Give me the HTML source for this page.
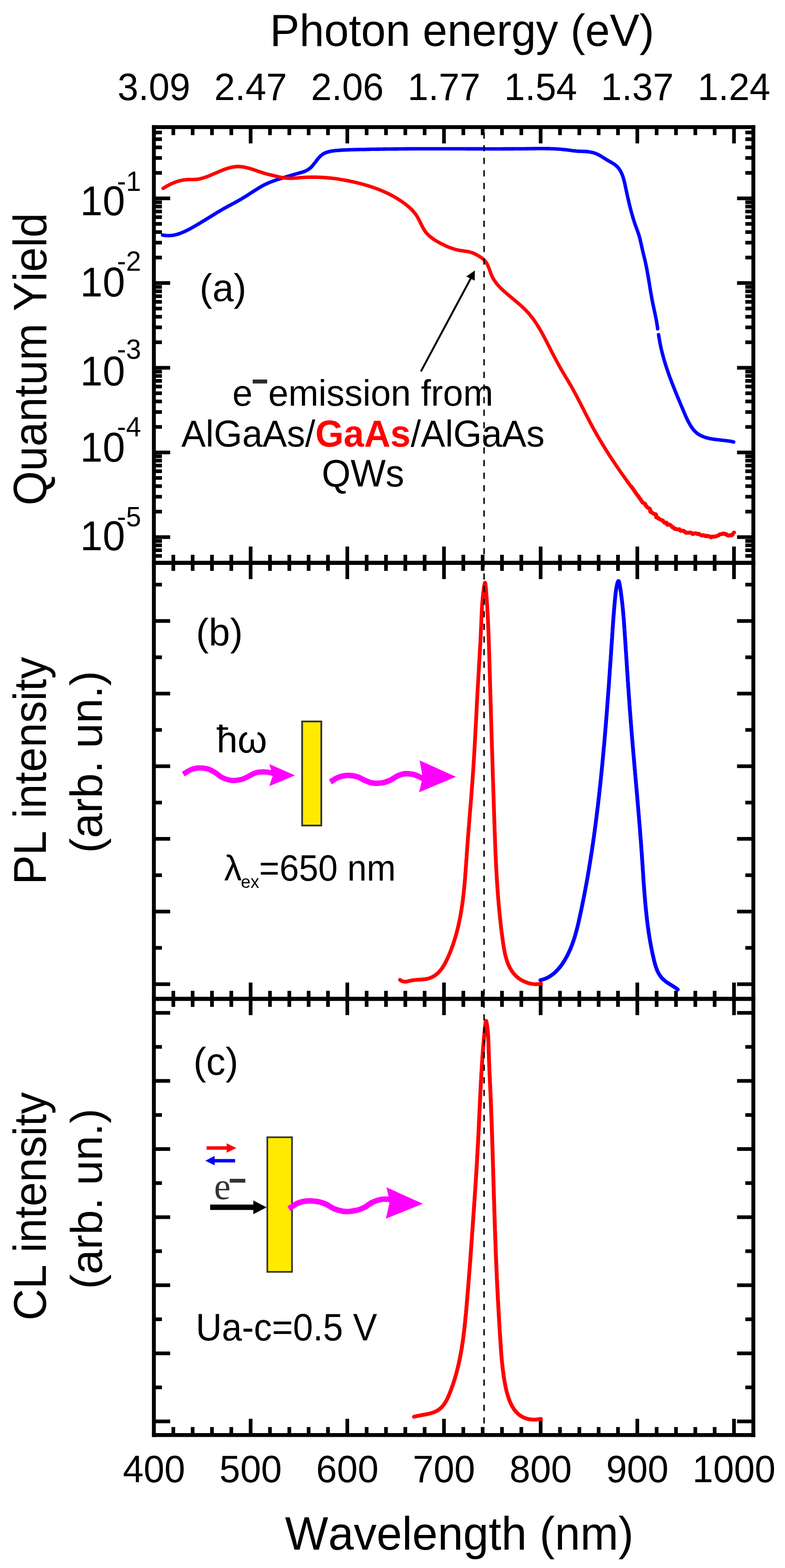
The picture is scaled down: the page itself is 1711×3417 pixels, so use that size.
<!DOCTYPE html>
<html><head><meta charset="utf-8"><title>Quantum yield, PL and CL spectra</title>
<style>html,body{margin:0;padding:0;background:#fff;}svg{display:block;}text{font-kerning:none;}</style>
</head><body>
<svg xmlns="http://www.w3.org/2000/svg" width="1711" height="3417" viewBox="0 0 1711 3417">
<rect width="1711" height="3417" fill="#fff"/>
<line x1="377.74" y1="277" x2="377.74" y2="294.5" stroke="#000" stroke-width="8"/>
<line x1="419.88" y1="277" x2="419.88" y2="294.5" stroke="#000" stroke-width="8"/>
<line x1="462.02" y1="277" x2="462.02" y2="294.5" stroke="#000" stroke-width="8"/>
<line x1="504.16" y1="277" x2="504.16" y2="294.5" stroke="#000" stroke-width="8"/>
<line x1="546.3" y1="277" x2="546.3" y2="312.5" stroke="#000" stroke-width="8"/>
<line x1="588.44" y1="277" x2="588.44" y2="294.5" stroke="#000" stroke-width="8"/>
<line x1="630.58" y1="277" x2="630.58" y2="294.5" stroke="#000" stroke-width="8"/>
<line x1="672.72" y1="277" x2="672.72" y2="294.5" stroke="#000" stroke-width="8"/>
<line x1="714.86" y1="277" x2="714.86" y2="294.5" stroke="#000" stroke-width="8"/>
<line x1="757" y1="277" x2="757" y2="312.5" stroke="#000" stroke-width="8"/>
<line x1="799.14" y1="277" x2="799.14" y2="294.5" stroke="#000" stroke-width="8"/>
<line x1="841.28" y1="277" x2="841.28" y2="294.5" stroke="#000" stroke-width="8"/>
<line x1="883.42" y1="277" x2="883.42" y2="294.5" stroke="#000" stroke-width="8"/>
<line x1="925.56" y1="277" x2="925.56" y2="294.5" stroke="#000" stroke-width="8"/>
<line x1="967.7" y1="277" x2="967.7" y2="312.5" stroke="#000" stroke-width="8"/>
<line x1="1009.84" y1="277" x2="1009.84" y2="294.5" stroke="#000" stroke-width="8"/>
<line x1="1051.98" y1="277" x2="1051.98" y2="294.5" stroke="#000" stroke-width="8"/>
<line x1="1094.12" y1="277" x2="1094.12" y2="294.5" stroke="#000" stroke-width="8"/>
<line x1="1136.26" y1="277" x2="1136.26" y2="294.5" stroke="#000" stroke-width="8"/>
<line x1="1178.4" y1="277" x2="1178.4" y2="312.5" stroke="#000" stroke-width="8"/>
<line x1="1220.54" y1="277" x2="1220.54" y2="294.5" stroke="#000" stroke-width="8"/>
<line x1="1262.68" y1="277" x2="1262.68" y2="294.5" stroke="#000" stroke-width="8"/>
<line x1="1304.82" y1="277" x2="1304.82" y2="294.5" stroke="#000" stroke-width="8"/>
<line x1="1346.96" y1="277" x2="1346.96" y2="294.5" stroke="#000" stroke-width="8"/>
<line x1="1389.1" y1="277" x2="1389.1" y2="312.5" stroke="#000" stroke-width="8"/>
<line x1="1431.24" y1="277" x2="1431.24" y2="294.5" stroke="#000" stroke-width="8"/>
<line x1="1473.38" y1="277" x2="1473.38" y2="294.5" stroke="#000" stroke-width="8"/>
<line x1="1515.52" y1="277" x2="1515.52" y2="294.5" stroke="#000" stroke-width="8"/>
<line x1="1557.66" y1="277" x2="1557.66" y2="294.5" stroke="#000" stroke-width="8"/>
<line x1="1599.8" y1="277" x2="1599.8" y2="312.5" stroke="#000" stroke-width="8"/>
<line x1="377.74" y1="1209" x2="377.74" y2="1244" stroke="#000" stroke-width="8"/>
<line x1="419.88" y1="1209" x2="419.88" y2="1244" stroke="#000" stroke-width="8"/>
<line x1="462.02" y1="1209" x2="462.02" y2="1244" stroke="#000" stroke-width="8"/>
<line x1="504.16" y1="1209" x2="504.16" y2="1244" stroke="#000" stroke-width="8"/>
<line x1="546.3" y1="1191" x2="546.3" y2="1262" stroke="#000" stroke-width="8"/>
<line x1="588.44" y1="1209" x2="588.44" y2="1244" stroke="#000" stroke-width="8"/>
<line x1="630.58" y1="1209" x2="630.58" y2="1244" stroke="#000" stroke-width="8"/>
<line x1="672.72" y1="1209" x2="672.72" y2="1244" stroke="#000" stroke-width="8"/>
<line x1="714.86" y1="1209" x2="714.86" y2="1244" stroke="#000" stroke-width="8"/>
<line x1="757" y1="1191" x2="757" y2="1262" stroke="#000" stroke-width="8"/>
<line x1="799.14" y1="1209" x2="799.14" y2="1244" stroke="#000" stroke-width="8"/>
<line x1="841.28" y1="1209" x2="841.28" y2="1244" stroke="#000" stroke-width="8"/>
<line x1="883.42" y1="1209" x2="883.42" y2="1244" stroke="#000" stroke-width="8"/>
<line x1="925.56" y1="1209" x2="925.56" y2="1244" stroke="#000" stroke-width="8"/>
<line x1="967.7" y1="1191" x2="967.7" y2="1262" stroke="#000" stroke-width="8"/>
<line x1="1009.84" y1="1209" x2="1009.84" y2="1244" stroke="#000" stroke-width="8"/>
<line x1="1051.98" y1="1209" x2="1051.98" y2="1244" stroke="#000" stroke-width="8"/>
<line x1="1094.12" y1="1209" x2="1094.12" y2="1244" stroke="#000" stroke-width="8"/>
<line x1="1136.26" y1="1209" x2="1136.26" y2="1244" stroke="#000" stroke-width="8"/>
<line x1="1178.4" y1="1191" x2="1178.4" y2="1262" stroke="#000" stroke-width="8"/>
<line x1="1220.54" y1="1209" x2="1220.54" y2="1244" stroke="#000" stroke-width="8"/>
<line x1="1262.68" y1="1209" x2="1262.68" y2="1244" stroke="#000" stroke-width="8"/>
<line x1="1304.82" y1="1209" x2="1304.82" y2="1244" stroke="#000" stroke-width="8"/>
<line x1="1346.96" y1="1209" x2="1346.96" y2="1244" stroke="#000" stroke-width="8"/>
<line x1="1389.1" y1="1191" x2="1389.1" y2="1262" stroke="#000" stroke-width="8"/>
<line x1="1431.24" y1="1209" x2="1431.24" y2="1244" stroke="#000" stroke-width="8"/>
<line x1="1473.38" y1="1209" x2="1473.38" y2="1244" stroke="#000" stroke-width="8"/>
<line x1="1515.52" y1="1209" x2="1515.52" y2="1244" stroke="#000" stroke-width="8"/>
<line x1="1557.66" y1="1209" x2="1557.66" y2="1244" stroke="#000" stroke-width="8"/>
<line x1="1599.8" y1="1191" x2="1599.8" y2="1262" stroke="#000" stroke-width="8"/>
<line x1="377.74" y1="2159.2" x2="377.74" y2="2194.2" stroke="#000" stroke-width="8"/>
<line x1="419.88" y1="2159.2" x2="419.88" y2="2194.2" stroke="#000" stroke-width="8"/>
<line x1="462.02" y1="2159.2" x2="462.02" y2="2194.2" stroke="#000" stroke-width="8"/>
<line x1="504.16" y1="2159.2" x2="504.16" y2="2194.2" stroke="#000" stroke-width="8"/>
<line x1="546.3" y1="2141.2" x2="546.3" y2="2212.2" stroke="#000" stroke-width="8"/>
<line x1="588.44" y1="2159.2" x2="588.44" y2="2194.2" stroke="#000" stroke-width="8"/>
<line x1="630.58" y1="2159.2" x2="630.58" y2="2194.2" stroke="#000" stroke-width="8"/>
<line x1="672.72" y1="2159.2" x2="672.72" y2="2194.2" stroke="#000" stroke-width="8"/>
<line x1="714.86" y1="2159.2" x2="714.86" y2="2194.2" stroke="#000" stroke-width="8"/>
<line x1="757" y1="2141.2" x2="757" y2="2212.2" stroke="#000" stroke-width="8"/>
<line x1="799.14" y1="2159.2" x2="799.14" y2="2194.2" stroke="#000" stroke-width="8"/>
<line x1="841.28" y1="2159.2" x2="841.28" y2="2194.2" stroke="#000" stroke-width="8"/>
<line x1="883.42" y1="2159.2" x2="883.42" y2="2194.2" stroke="#000" stroke-width="8"/>
<line x1="925.56" y1="2159.2" x2="925.56" y2="2194.2" stroke="#000" stroke-width="8"/>
<line x1="967.7" y1="2141.2" x2="967.7" y2="2212.2" stroke="#000" stroke-width="8"/>
<line x1="1009.84" y1="2159.2" x2="1009.84" y2="2194.2" stroke="#000" stroke-width="8"/>
<line x1="1051.98" y1="2159.2" x2="1051.98" y2="2194.2" stroke="#000" stroke-width="8"/>
<line x1="1094.12" y1="2159.2" x2="1094.12" y2="2194.2" stroke="#000" stroke-width="8"/>
<line x1="1136.26" y1="2159.2" x2="1136.26" y2="2194.2" stroke="#000" stroke-width="8"/>
<line x1="1178.4" y1="2141.2" x2="1178.4" y2="2212.2" stroke="#000" stroke-width="8"/>
<line x1="1220.54" y1="2159.2" x2="1220.54" y2="2194.2" stroke="#000" stroke-width="8"/>
<line x1="1262.68" y1="2159.2" x2="1262.68" y2="2194.2" stroke="#000" stroke-width="8"/>
<line x1="1304.82" y1="2159.2" x2="1304.82" y2="2194.2" stroke="#000" stroke-width="8"/>
<line x1="1346.96" y1="2159.2" x2="1346.96" y2="2194.2" stroke="#000" stroke-width="8"/>
<line x1="1389.1" y1="2141.2" x2="1389.1" y2="2212.2" stroke="#000" stroke-width="8"/>
<line x1="1431.24" y1="2159.2" x2="1431.24" y2="2194.2" stroke="#000" stroke-width="8"/>
<line x1="1473.38" y1="2159.2" x2="1473.38" y2="2194.2" stroke="#000" stroke-width="8"/>
<line x1="1515.52" y1="2159.2" x2="1515.52" y2="2194.2" stroke="#000" stroke-width="8"/>
<line x1="1557.66" y1="2159.2" x2="1557.66" y2="2194.2" stroke="#000" stroke-width="8"/>
<line x1="1599.8" y1="2141.2" x2="1599.8" y2="2212.2" stroke="#000" stroke-width="8"/>
<line x1="377.74" y1="3109.8" x2="377.74" y2="3127.3" stroke="#000" stroke-width="8"/>
<line x1="419.88" y1="3109.8" x2="419.88" y2="3127.3" stroke="#000" stroke-width="8"/>
<line x1="462.02" y1="3109.8" x2="462.02" y2="3127.3" stroke="#000" stroke-width="8"/>
<line x1="504.16" y1="3109.8" x2="504.16" y2="3127.3" stroke="#000" stroke-width="8"/>
<line x1="546.3" y1="3091.8" x2="546.3" y2="3127.3" stroke="#000" stroke-width="8"/>
<line x1="588.44" y1="3109.8" x2="588.44" y2="3127.3" stroke="#000" stroke-width="8"/>
<line x1="630.58" y1="3109.8" x2="630.58" y2="3127.3" stroke="#000" stroke-width="8"/>
<line x1="672.72" y1="3109.8" x2="672.72" y2="3127.3" stroke="#000" stroke-width="8"/>
<line x1="714.86" y1="3109.8" x2="714.86" y2="3127.3" stroke="#000" stroke-width="8"/>
<line x1="757" y1="3091.8" x2="757" y2="3127.3" stroke="#000" stroke-width="8"/>
<line x1="799.14" y1="3109.8" x2="799.14" y2="3127.3" stroke="#000" stroke-width="8"/>
<line x1="841.28" y1="3109.8" x2="841.28" y2="3127.3" stroke="#000" stroke-width="8"/>
<line x1="883.42" y1="3109.8" x2="883.42" y2="3127.3" stroke="#000" stroke-width="8"/>
<line x1="925.56" y1="3109.8" x2="925.56" y2="3127.3" stroke="#000" stroke-width="8"/>
<line x1="967.7" y1="3091.8" x2="967.7" y2="3127.3" stroke="#000" stroke-width="8"/>
<line x1="1009.84" y1="3109.8" x2="1009.84" y2="3127.3" stroke="#000" stroke-width="8"/>
<line x1="1051.98" y1="3109.8" x2="1051.98" y2="3127.3" stroke="#000" stroke-width="8"/>
<line x1="1094.12" y1="3109.8" x2="1094.12" y2="3127.3" stroke="#000" stroke-width="8"/>
<line x1="1136.26" y1="3109.8" x2="1136.26" y2="3127.3" stroke="#000" stroke-width="8"/>
<line x1="1178.4" y1="3091.8" x2="1178.4" y2="3127.3" stroke="#000" stroke-width="8"/>
<line x1="1220.54" y1="3109.8" x2="1220.54" y2="3127.3" stroke="#000" stroke-width="8"/>
<line x1="1262.68" y1="3109.8" x2="1262.68" y2="3127.3" stroke="#000" stroke-width="8"/>
<line x1="1304.82" y1="3109.8" x2="1304.82" y2="3127.3" stroke="#000" stroke-width="8"/>
<line x1="1346.96" y1="3109.8" x2="1346.96" y2="3127.3" stroke="#000" stroke-width="8"/>
<line x1="1389.1" y1="3091.8" x2="1389.1" y2="3127.3" stroke="#000" stroke-width="8"/>
<line x1="1431.24" y1="3109.8" x2="1431.24" y2="3127.3" stroke="#000" stroke-width="8"/>
<line x1="1473.38" y1="3109.8" x2="1473.38" y2="3127.3" stroke="#000" stroke-width="8"/>
<line x1="1515.52" y1="3109.8" x2="1515.52" y2="3127.3" stroke="#000" stroke-width="8"/>
<line x1="1557.66" y1="3109.8" x2="1557.66" y2="3127.3" stroke="#000" stroke-width="8"/>
<line x1="1599.8" y1="3091.8" x2="1599.8" y2="3127.3" stroke="#000" stroke-width="8"/>
<line x1="335.4" y1="1211.44" x2="352.9" y2="1211.44" stroke="#000" stroke-width="8"/>
<line x1="1624.5" y1="1211.44" x2="1642" y2="1211.44" stroke="#000" stroke-width="8"/>
<line x1="335.4" y1="1199.09" x2="352.9" y2="1199.09" stroke="#000" stroke-width="8"/>
<line x1="1624.5" y1="1199.09" x2="1642" y2="1199.09" stroke="#000" stroke-width="8"/>
<line x1="335.4" y1="1188.38" x2="352.9" y2="1188.38" stroke="#000" stroke-width="8"/>
<line x1="1624.5" y1="1188.38" x2="1642" y2="1188.38" stroke="#000" stroke-width="8"/>
<line x1="335.4" y1="1178.94" x2="352.9" y2="1178.94" stroke="#000" stroke-width="8"/>
<line x1="1624.5" y1="1178.94" x2="1642" y2="1178.94" stroke="#000" stroke-width="8"/>
<line x1="335.4" y1="1170.5" x2="370.9" y2="1170.5" stroke="#000" stroke-width="8"/>
<line x1="1606.5" y1="1170.5" x2="1642" y2="1170.5" stroke="#000" stroke-width="8"/>
<line x1="335.4" y1="1114.94" x2="352.9" y2="1114.94" stroke="#000" stroke-width="8"/>
<line x1="1624.5" y1="1114.94" x2="1642" y2="1114.94" stroke="#000" stroke-width="8"/>
<line x1="335.4" y1="1082.45" x2="352.9" y2="1082.45" stroke="#000" stroke-width="8"/>
<line x1="1624.5" y1="1082.45" x2="1642" y2="1082.45" stroke="#000" stroke-width="8"/>
<line x1="335.4" y1="1059.39" x2="352.9" y2="1059.39" stroke="#000" stroke-width="8"/>
<line x1="1624.5" y1="1059.39" x2="1642" y2="1059.39" stroke="#000" stroke-width="8"/>
<line x1="335.4" y1="1041.51" x2="352.9" y2="1041.51" stroke="#000" stroke-width="8"/>
<line x1="1624.5" y1="1041.51" x2="1642" y2="1041.51" stroke="#000" stroke-width="8"/>
<line x1="335.4" y1="1026.89" x2="352.9" y2="1026.89" stroke="#000" stroke-width="8"/>
<line x1="1624.5" y1="1026.89" x2="1642" y2="1026.89" stroke="#000" stroke-width="8"/>
<line x1="335.4" y1="1014.54" x2="352.9" y2="1014.54" stroke="#000" stroke-width="8"/>
<line x1="1624.5" y1="1014.54" x2="1642" y2="1014.54" stroke="#000" stroke-width="8"/>
<line x1="335.4" y1="1003.83" x2="352.9" y2="1003.83" stroke="#000" stroke-width="8"/>
<line x1="1624.5" y1="1003.83" x2="1642" y2="1003.83" stroke="#000" stroke-width="8"/>
<line x1="335.4" y1="994.39" x2="352.9" y2="994.39" stroke="#000" stroke-width="8"/>
<line x1="1624.5" y1="994.39" x2="1642" y2="994.39" stroke="#000" stroke-width="8"/>
<line x1="335.4" y1="985.95" x2="370.9" y2="985.95" stroke="#000" stroke-width="8"/>
<line x1="1606.5" y1="985.95" x2="1642" y2="985.95" stroke="#000" stroke-width="8"/>
<line x1="335.4" y1="930.39" x2="352.9" y2="930.39" stroke="#000" stroke-width="8"/>
<line x1="1624.5" y1="930.39" x2="1642" y2="930.39" stroke="#000" stroke-width="8"/>
<line x1="335.4" y1="897.9" x2="352.9" y2="897.9" stroke="#000" stroke-width="8"/>
<line x1="1624.5" y1="897.9" x2="1642" y2="897.9" stroke="#000" stroke-width="8"/>
<line x1="335.4" y1="874.84" x2="352.9" y2="874.84" stroke="#000" stroke-width="8"/>
<line x1="1624.5" y1="874.84" x2="1642" y2="874.84" stroke="#000" stroke-width="8"/>
<line x1="335.4" y1="856.96" x2="352.9" y2="856.96" stroke="#000" stroke-width="8"/>
<line x1="1624.5" y1="856.96" x2="1642" y2="856.96" stroke="#000" stroke-width="8"/>
<line x1="335.4" y1="842.34" x2="352.9" y2="842.34" stroke="#000" stroke-width="8"/>
<line x1="1624.5" y1="842.34" x2="1642" y2="842.34" stroke="#000" stroke-width="8"/>
<line x1="335.4" y1="829.99" x2="352.9" y2="829.99" stroke="#000" stroke-width="8"/>
<line x1="1624.5" y1="829.99" x2="1642" y2="829.99" stroke="#000" stroke-width="8"/>
<line x1="335.4" y1="819.28" x2="352.9" y2="819.28" stroke="#000" stroke-width="8"/>
<line x1="1624.5" y1="819.28" x2="1642" y2="819.28" stroke="#000" stroke-width="8"/>
<line x1="335.4" y1="809.84" x2="352.9" y2="809.84" stroke="#000" stroke-width="8"/>
<line x1="1624.5" y1="809.84" x2="1642" y2="809.84" stroke="#000" stroke-width="8"/>
<line x1="335.4" y1="801.4" x2="370.9" y2="801.4" stroke="#000" stroke-width="8"/>
<line x1="1606.5" y1="801.4" x2="1642" y2="801.4" stroke="#000" stroke-width="8"/>
<line x1="335.4" y1="745.84" x2="352.9" y2="745.84" stroke="#000" stroke-width="8"/>
<line x1="1624.5" y1="745.84" x2="1642" y2="745.84" stroke="#000" stroke-width="8"/>
<line x1="335.4" y1="713.35" x2="352.9" y2="713.35" stroke="#000" stroke-width="8"/>
<line x1="1624.5" y1="713.35" x2="1642" y2="713.35" stroke="#000" stroke-width="8"/>
<line x1="335.4" y1="690.29" x2="352.9" y2="690.29" stroke="#000" stroke-width="8"/>
<line x1="1624.5" y1="690.29" x2="1642" y2="690.29" stroke="#000" stroke-width="8"/>
<line x1="335.4" y1="672.41" x2="352.9" y2="672.41" stroke="#000" stroke-width="8"/>
<line x1="1624.5" y1="672.41" x2="1642" y2="672.41" stroke="#000" stroke-width="8"/>
<line x1="335.4" y1="657.79" x2="352.9" y2="657.79" stroke="#000" stroke-width="8"/>
<line x1="1624.5" y1="657.79" x2="1642" y2="657.79" stroke="#000" stroke-width="8"/>
<line x1="335.4" y1="645.44" x2="352.9" y2="645.44" stroke="#000" stroke-width="8"/>
<line x1="1624.5" y1="645.44" x2="1642" y2="645.44" stroke="#000" stroke-width="8"/>
<line x1="335.4" y1="634.73" x2="352.9" y2="634.73" stroke="#000" stroke-width="8"/>
<line x1="1624.5" y1="634.73" x2="1642" y2="634.73" stroke="#000" stroke-width="8"/>
<line x1="335.4" y1="625.29" x2="352.9" y2="625.29" stroke="#000" stroke-width="8"/>
<line x1="1624.5" y1="625.29" x2="1642" y2="625.29" stroke="#000" stroke-width="8"/>
<line x1="335.4" y1="616.85" x2="370.9" y2="616.85" stroke="#000" stroke-width="8"/>
<line x1="1606.5" y1="616.85" x2="1642" y2="616.85" stroke="#000" stroke-width="8"/>
<line x1="335.4" y1="561.29" x2="352.9" y2="561.29" stroke="#000" stroke-width="8"/>
<line x1="1624.5" y1="561.29" x2="1642" y2="561.29" stroke="#000" stroke-width="8"/>
<line x1="335.4" y1="528.8" x2="352.9" y2="528.8" stroke="#000" stroke-width="8"/>
<line x1="1624.5" y1="528.8" x2="1642" y2="528.8" stroke="#000" stroke-width="8"/>
<line x1="335.4" y1="505.74" x2="352.9" y2="505.74" stroke="#000" stroke-width="8"/>
<line x1="1624.5" y1="505.74" x2="1642" y2="505.74" stroke="#000" stroke-width="8"/>
<line x1="335.4" y1="487.86" x2="352.9" y2="487.86" stroke="#000" stroke-width="8"/>
<line x1="1624.5" y1="487.86" x2="1642" y2="487.86" stroke="#000" stroke-width="8"/>
<line x1="335.4" y1="473.24" x2="352.9" y2="473.24" stroke="#000" stroke-width="8"/>
<line x1="1624.5" y1="473.24" x2="1642" y2="473.24" stroke="#000" stroke-width="8"/>
<line x1="335.4" y1="460.89" x2="352.9" y2="460.89" stroke="#000" stroke-width="8"/>
<line x1="1624.5" y1="460.89" x2="1642" y2="460.89" stroke="#000" stroke-width="8"/>
<line x1="335.4" y1="450.18" x2="352.9" y2="450.18" stroke="#000" stroke-width="8"/>
<line x1="1624.5" y1="450.18" x2="1642" y2="450.18" stroke="#000" stroke-width="8"/>
<line x1="335.4" y1="440.74" x2="352.9" y2="440.74" stroke="#000" stroke-width="8"/>
<line x1="1624.5" y1="440.74" x2="1642" y2="440.74" stroke="#000" stroke-width="8"/>
<line x1="335.4" y1="432.3" x2="370.9" y2="432.3" stroke="#000" stroke-width="8"/>
<line x1="1606.5" y1="432.3" x2="1642" y2="432.3" stroke="#000" stroke-width="8"/>
<line x1="335.4" y1="376.74" x2="352.9" y2="376.74" stroke="#000" stroke-width="8"/>
<line x1="1624.5" y1="376.74" x2="1642" y2="376.74" stroke="#000" stroke-width="8"/>
<line x1="335.4" y1="344.25" x2="352.9" y2="344.25" stroke="#000" stroke-width="8"/>
<line x1="1624.5" y1="344.25" x2="1642" y2="344.25" stroke="#000" stroke-width="8"/>
<line x1="335.4" y1="321.19" x2="352.9" y2="321.19" stroke="#000" stroke-width="8"/>
<line x1="1624.5" y1="321.19" x2="1642" y2="321.19" stroke="#000" stroke-width="8"/>
<line x1="335.4" y1="303.31" x2="352.9" y2="303.31" stroke="#000" stroke-width="8"/>
<line x1="1624.5" y1="303.31" x2="1642" y2="303.31" stroke="#000" stroke-width="8"/>
<line x1="335.4" y1="288.69" x2="352.9" y2="288.69" stroke="#000" stroke-width="8"/>
<line x1="1624.5" y1="288.69" x2="1642" y2="288.69" stroke="#000" stroke-width="8"/>
<line x1="335.4" y1="2144.7" x2="370.9" y2="2144.7" stroke="#000" stroke-width="8"/>
<line x1="1606.5" y1="2144.7" x2="1642" y2="2144.7" stroke="#000" stroke-width="8"/>
<line x1="335.4" y1="2065.55" x2="352.9" y2="2065.55" stroke="#000" stroke-width="8"/>
<line x1="1624.5" y1="2065.55" x2="1642" y2="2065.55" stroke="#000" stroke-width="8"/>
<line x1="335.4" y1="1986.4" x2="370.9" y2="1986.4" stroke="#000" stroke-width="8"/>
<line x1="1606.5" y1="1986.4" x2="1642" y2="1986.4" stroke="#000" stroke-width="8"/>
<line x1="335.4" y1="1907.25" x2="352.9" y2="1907.25" stroke="#000" stroke-width="8"/>
<line x1="1624.5" y1="1907.25" x2="1642" y2="1907.25" stroke="#000" stroke-width="8"/>
<line x1="335.4" y1="1828.1" x2="370.9" y2="1828.1" stroke="#000" stroke-width="8"/>
<line x1="1606.5" y1="1828.1" x2="1642" y2="1828.1" stroke="#000" stroke-width="8"/>
<line x1="335.4" y1="1748.95" x2="352.9" y2="1748.95" stroke="#000" stroke-width="8"/>
<line x1="1624.5" y1="1748.95" x2="1642" y2="1748.95" stroke="#000" stroke-width="8"/>
<line x1="335.4" y1="1669.8" x2="370.9" y2="1669.8" stroke="#000" stroke-width="8"/>
<line x1="1606.5" y1="1669.8" x2="1642" y2="1669.8" stroke="#000" stroke-width="8"/>
<line x1="335.4" y1="1590.65" x2="352.9" y2="1590.65" stroke="#000" stroke-width="8"/>
<line x1="1624.5" y1="1590.65" x2="1642" y2="1590.65" stroke="#000" stroke-width="8"/>
<line x1="335.4" y1="1511.5" x2="370.9" y2="1511.5" stroke="#000" stroke-width="8"/>
<line x1="1606.5" y1="1511.5" x2="1642" y2="1511.5" stroke="#000" stroke-width="8"/>
<line x1="335.4" y1="1432.35" x2="352.9" y2="1432.35" stroke="#000" stroke-width="8"/>
<line x1="1624.5" y1="1432.35" x2="1642" y2="1432.35" stroke="#000" stroke-width="8"/>
<line x1="335.4" y1="1353.2" x2="370.9" y2="1353.2" stroke="#000" stroke-width="8"/>
<line x1="1606.5" y1="1353.2" x2="1642" y2="1353.2" stroke="#000" stroke-width="8"/>
<line x1="335.4" y1="1274.05" x2="352.9" y2="1274.05" stroke="#000" stroke-width="8"/>
<line x1="1624.5" y1="1274.05" x2="1642" y2="1274.05" stroke="#000" stroke-width="8"/>
<line x1="335.4" y1="3097.6" x2="370.9" y2="3097.6" stroke="#000" stroke-width="8"/>
<line x1="1606.5" y1="3097.6" x2="1642" y2="3097.6" stroke="#000" stroke-width="8"/>
<line x1="335.4" y1="3023.4" x2="352.9" y2="3023.4" stroke="#000" stroke-width="8"/>
<line x1="1624.5" y1="3023.4" x2="1642" y2="3023.4" stroke="#000" stroke-width="8"/>
<line x1="335.4" y1="2949.2" x2="370.9" y2="2949.2" stroke="#000" stroke-width="8"/>
<line x1="1606.5" y1="2949.2" x2="1642" y2="2949.2" stroke="#000" stroke-width="8"/>
<line x1="335.4" y1="2875" x2="352.9" y2="2875" stroke="#000" stroke-width="8"/>
<line x1="1624.5" y1="2875" x2="1642" y2="2875" stroke="#000" stroke-width="8"/>
<line x1="335.4" y1="2800.8" x2="370.9" y2="2800.8" stroke="#000" stroke-width="8"/>
<line x1="1606.5" y1="2800.8" x2="1642" y2="2800.8" stroke="#000" stroke-width="8"/>
<line x1="335.4" y1="2726.6" x2="352.9" y2="2726.6" stroke="#000" stroke-width="8"/>
<line x1="1624.5" y1="2726.6" x2="1642" y2="2726.6" stroke="#000" stroke-width="8"/>
<line x1="335.4" y1="2652.4" x2="370.9" y2="2652.4" stroke="#000" stroke-width="8"/>
<line x1="1606.5" y1="2652.4" x2="1642" y2="2652.4" stroke="#000" stroke-width="8"/>
<line x1="335.4" y1="2578.2" x2="352.9" y2="2578.2" stroke="#000" stroke-width="8"/>
<line x1="1624.5" y1="2578.2" x2="1642" y2="2578.2" stroke="#000" stroke-width="8"/>
<line x1="335.4" y1="2504" x2="370.9" y2="2504" stroke="#000" stroke-width="8"/>
<line x1="1606.5" y1="2504" x2="1642" y2="2504" stroke="#000" stroke-width="8"/>
<line x1="335.4" y1="2429.8" x2="352.9" y2="2429.8" stroke="#000" stroke-width="8"/>
<line x1="1624.5" y1="2429.8" x2="1642" y2="2429.8" stroke="#000" stroke-width="8"/>
<line x1="335.4" y1="2355.6" x2="370.9" y2="2355.6" stroke="#000" stroke-width="8"/>
<line x1="1606.5" y1="2355.6" x2="1642" y2="2355.6" stroke="#000" stroke-width="8"/>
<line x1="335.4" y1="2281.4" x2="352.9" y2="2281.4" stroke="#000" stroke-width="8"/>
<line x1="1624.5" y1="2281.4" x2="1642" y2="2281.4" stroke="#000" stroke-width="8"/>
<line x1="335.4" y1="2207.2" x2="370.9" y2="2207.2" stroke="#000" stroke-width="8"/>
<line x1="1606.5" y1="2207.2" x2="1642" y2="2207.2" stroke="#000" stroke-width="8"/>
<line x1="335.4" y1="272.75" x2="335.4" y2="3131.55" stroke="#000" stroke-width="8.5"/>
<line x1="1642" y1="272.75" x2="1642" y2="3131.55" stroke="#000" stroke-width="8.5"/>
<line x1="331.15" y1="277" x2="1646.25" y2="277" stroke="#000" stroke-width="8.5"/>
<line x1="331.15" y1="1226.5" x2="1646.25" y2="1226.5" stroke="#000" stroke-width="9"/>
<line x1="331.15" y1="2176.7" x2="1646.25" y2="2176.7" stroke="#000" stroke-width="9"/>
<line x1="331.15" y1="3127.3" x2="1646.25" y2="3127.3" stroke="#000" stroke-width="8.5"/>
<path d="M354.5,512.2 L358.7,512.9 L362.8,513.3 L366.9,513.5 L370.9,513.4 L374.8,513.0 L378.8,512.4 L382.6,511.6 L386.5,510.6 L390.2,509.4 L394.0,508.1 L397.7,506.6 L401.4,505.0 L405.0,503.3 L408.6,501.5 L412.2,499.7 L415.7,497.8 L419.3,495.8 L422.8,493.8 L426.3,491.8 L429.8,489.8 L433.2,487.7 L436.7,485.7 L440.1,483.6 L443.5,481.5 L447.0,479.4 L450.4,477.3 L453.8,475.2 L457.2,473.1 L460.6,471.0 L464.0,468.9 L467.4,466.8 L470.8,464.7 L474.3,462.6 L477.7,460.6 L481.2,458.5 L484.6,456.5 L488.1,454.5 L491.6,452.6 L495.1,450.6 L498.7,448.7 L502.2,446.8 L505.7,444.9 L509.3,443.0 L512.8,441.1 L516.3,439.1 L519.8,437.2 L523.3,435.2 L526.8,433.2 L530.2,431.1 L533.6,429.0 L537.0,426.9 L540.4,424.7 L543.7,422.6 L547.1,420.4 L550.5,418.2 L553.8,416.0 L557.2,413.9 L560.6,411.7 L564.1,409.7 L567.5,407.6 L571.0,405.6 L574.6,403.7 L578.1,401.9 L581.7,400.2 L585.4,398.5 L589.1,397.0 L592.9,395.5 L596.6,394.1 L600.4,392.8 L604.2,391.5 L608.0,390.3 L611.8,389.0 L615.7,387.8 L619.5,386.7 L623.3,385.5 L627.1,384.3 L631.0,383.2 L634.8,382.1 L638.7,380.9 L642.6,379.8 L646.5,378.7 L650.5,377.6 L654.4,376.5 L658.4,375.4 L662.2,374.1 L666.0,372.6 L669.5,370.9 L672.9,368.8 L675.9,366.4 L678.8,363.7 L681.5,360.8 L684.0,357.7 L686.5,354.5 L689.0,351.2 L691.5,347.9 L694.1,344.8 L696.8,341.8 L699.6,339.1 L702.7,336.6 L706.0,334.6 L709.5,332.9 L713.2,331.6 L717.0,330.5 L720.9,329.6 L725.0,329.0 L729.0,328.4 L733.1,328.0 L737.2,327.7 L741.3,327.4 L745.3,327.1 L749.3,326.9 L753.4,326.7 L757.4,326.6 L761.4,326.4 L765.4,326.3 L769.4,326.2 L773.4,326.1 L777.3,326.0 L781.3,325.9 L785.3,325.8 L789.3,325.7 L793.3,325.7 L797.3,325.6 L801.3,325.5 L805.3,325.4 L809.4,325.3 L813.4,325.3 L817.4,325.2 L821.4,325.1 L825.4,325.1 L829.4,325.0 L833.4,325.0 L837.4,324.9 L841.4,324.8 L845.4,324.8 L849.5,324.7 L853.5,324.7 L857.5,324.6 L861.5,324.6 L865.5,324.6 L869.5,324.5 L873.6,324.5 L877.6,324.5 L881.6,324.4 L885.6,324.4 L889.6,324.4 L893.6,324.3 L897.7,324.3 L901.7,324.3 L905.7,324.3 L909.7,324.3 L913.7,324.2 L917.8,324.2 L921.8,324.2 L925.8,324.2 L929.8,324.2 L933.8,324.2 L937.8,324.2 L941.9,324.2 L945.9,324.2 L949.9,324.2 L953.9,324.2 L957.9,324.2 L961.9,324.2 L965.9,324.2 L970.0,324.2 L974.0,324.2 L978.0,324.2 L982.0,324.2 L986.0,324.3 L990.0,324.3 L994.0,324.3 L998.0,324.3 L1002.0,324.3 L1006.0,324.3 L1010.1,324.3 L1014.1,324.3 L1018.1,324.4 L1022.1,324.4 L1026.1,324.4 L1030.1,324.4 L1034.1,324.4 L1038.1,324.4 L1042.1,324.4 L1046.1,324.4 L1050.2,324.4 L1054.2,324.5 L1058.2,324.5 L1062.2,324.5 L1066.2,324.5 L1070.2,324.5 L1074.2,324.5 L1078.2,324.5 L1082.2,324.5 L1086.3,324.5 L1090.3,324.5 L1094.3,324.5 L1098.3,324.4 L1102.3,324.4 L1106.3,324.4 L1110.3,324.4 L1114.4,324.4 L1118.4,324.4 L1122.4,324.3 L1126.4,324.3 L1130.4,324.3 L1134.5,324.2 L1138.5,324.2 L1142.5,324.2 L1146.5,324.1 L1150.6,324.1 L1154.6,324.0 L1158.6,324.0 L1162.7,323.9 L1166.7,323.9 L1170.7,323.8 L1174.7,323.8 L1178.8,323.8 L1182.8,323.8 L1186.8,323.8 L1190.8,323.9 L1194.8,323.9 L1198.9,324.0 L1202.9,324.2 L1206.9,324.3 L1210.9,324.5 L1214.9,324.7 L1218.8,325.0 L1222.8,325.3 L1226.8,325.7 L1230.8,326.1 L1234.7,326.6 L1238.7,327.1 L1242.7,327.6 L1246.6,328.2 L1250.6,328.6 L1254.6,329.1 L1258.6,329.4 L1262.7,329.6 L1266.7,329.8 L1270.8,329.9 L1274.9,330.1 L1278.9,330.4 L1282.9,330.8 L1286.8,331.4 L1290.7,332.2 L1294.4,333.2 L1298.1,334.5 L1301.7,336.0 L1305.2,337.7 L1308.7,339.6 L1312.1,341.7 L1315.5,343.8 L1319.0,346.0 L1322.5,348.2 L1326.0,350.3 L1329.7,352.4 L1333.4,354.4 L1336.9,356.5 L1340.3,358.8 L1343.3,361.3 L1346.1,364.0 L1348.5,366.9 L1350.7,370.0 L1352.7,373.3 L1354.4,376.7 L1356.0,380.3 L1357.4,384.0 L1358.6,387.7 L1359.7,391.6 L1360.8,395.5 L1361.7,399.5 L1362.6,403.5 L1363.4,407.5 L1364.3,411.6 L1365.1,415.6 L1366.0,419.5 L1366.8,423.5 L1367.7,427.5 L1368.6,431.4 L1369.5,435.3 L1370.4,439.2 L1371.3,443.1 L1372.2,447.0 L1373.2,450.9 L1374.2,454.8 L1375.2,458.6 L1376.2,462.5 L1377.3,466.3 L1378.4,470.1 L1379.5,474.0 L1380.7,477.8 L1381.9,481.6 L1383.1,485.4 L1384.4,489.2 L1385.7,493.0 L1387.1,496.8 L1388.5,500.6 L1389.9,504.4 L1391.2,508.2 L1392.5,512.0 L1393.6,515.9 L1394.7,519.7 L1395.6,523.6 L1396.5,527.5 L1397.4,531.4 L1398.3,535.3 L1399.1,539.2 L1400.0,543.1 L1400.9,547.1 L1401.8,551.0 L1402.8,554.9 L1403.7,558.8 L1404.7,562.7 L1405.6,566.6 L1406.5,570.5 L1407.4,574.4 L1408.2,578.3 L1409.0,582.3 L1409.8,586.2 L1410.5,590.2 L1411.2,594.1 L1411.9,598.1 L1412.6,602.0 L1413.3,606.0 L1414.0,609.9 L1414.6,613.9 L1415.3,617.8 L1415.9,621.8 L1416.5,625.8 L1417.2,629.7 L1417.8,633.7 L1418.5,637.6 L1419.2,641.6 L1419.9,645.5 L1420.6,649.5 L1421.3,653.4 L1422.1,657.4 L1422.9,661.3 L1423.7,665.2 L1424.5,669.2 L1425.4,673.1 L1426.2,677.0 L1427.1,680.9 L1427.9,684.9 L1428.7,688.8 L1429.5,692.7 L1430.3,696.7 L1431.0,700.6 L1431.7,704.6 L1432.3,708.5 L1432.9,712.5 L1433.4,716.5" fill="none" stroke="#0000ff" stroke-width="7.6" stroke-linecap="round" stroke-linejoin="round"/>
<path d="M1435.5,729.3 L1436.1,733.4 L1436.8,737.5 L1437.5,741.6 L1438.2,745.7 L1439.0,749.7 L1439.8,753.8 L1440.7,757.8 L1441.6,761.8 L1442.6,765.8 L1443.6,769.8 L1444.6,773.8 L1445.7,777.7 L1446.8,781.7 L1447.9,785.6 L1449.1,789.5 L1450.3,793.4 L1451.5,797.3 L1452.8,801.2 L1454.0,805.1 L1455.4,808.9 L1456.7,812.8 L1458.1,816.7 L1459.4,820.5 L1460.8,824.3 L1462.3,828.2 L1463.7,832.0 L1465.2,835.8 L1466.7,839.6 L1468.2,843.4 L1469.7,847.2 L1471.2,851.0 L1472.7,854.8 L1474.3,858.6 L1475.8,862.4 L1477.4,866.2 L1479.0,870.0 L1480.6,873.8 L1482.2,877.6 L1483.8,881.4 L1485.4,885.2 L1487.0,889.0 L1488.6,892.8 L1490.2,896.6 L1491.8,900.4 L1493.4,904.2 L1495.1,908.0 L1496.8,911.7 L1498.6,915.5 L1500.5,919.2 L1502.5,922.8 L1504.6,926.5 L1506.8,930.0 L1509.1,933.4 L1511.6,936.6 L1514.3,939.6 L1517.1,942.3 L1520.2,944.8 L1523.4,947.0 L1526.8,948.9 L1530.4,950.6 L1534.1,952.1 L1537.9,953.3 L1541.9,954.5 L1545.9,955.4 L1550.0,956.2 L1554.2,956.9 L1558.4,957.5 L1562.6,958.1 L1566.9,958.6 L1571.1,959.0 L1575.3,959.5 L1579.5,959.9 L1583.6,960.4 L1587.6,961.0 L1591.6,961.6 L1595.4,962.3 L1599.1,963.2" fill="none" stroke="#0000ff" stroke-width="7.6" stroke-linecap="round" stroke-linejoin="round"/>
<path d="M355.5,410.5 L358.9,408.4 L362.4,406.4 L365.9,404.4 L369.4,402.5 L373.1,400.8 L376.7,399.1 L380.5,397.6 L384.2,396.2 L388.0,395.0 L391.9,393.9 L395.8,393.0 L399.8,392.3 L403.8,391.7 L407.8,391.4 L411.9,391.2 L415.9,391.2 L420.0,391.2 L424.0,391.1 L428.0,390.9 L431.9,390.4 L435.7,389.7 L439.4,388.8 L443.2,387.7 L446.9,386.5 L450.7,385.2 L454.5,383.8 L458.2,382.2 L462.0,380.6 L465.7,379.0 L469.5,377.3 L473.3,375.7 L477.1,374.0 L480.9,372.4 L484.6,370.9 L488.5,369.4 L492.3,368.1 L496.1,366.8 L499.9,365.7 L503.8,364.7 L507.6,364.0 L511.5,363.4 L515.3,363.1 L519.2,362.9 L523.1,363.1 L527.0,363.5 L530.9,364.0 L534.8,364.8 L538.7,365.7 L542.7,366.7 L546.6,367.9 L550.5,369.1 L554.4,370.4 L558.3,371.7 L562.2,373.1 L566.1,374.4 L569.9,375.7 L573.8,376.9 L577.6,378.1 L581.5,379.2 L585.3,380.1 L589.1,381.0 L592.9,381.9 L596.7,382.8 L600.6,383.7 L604.5,384.6 L608.5,385.6 L612.4,386.5 L616.4,387.2 L620.4,387.8 L624.4,388.2 L628.4,388.4 L632.4,388.5 L636.4,388.4 L640.4,388.2 L644.3,388.0 L648.3,387.7 L652.3,387.3 L656.3,387.0 L660.3,386.7 L664.3,386.5 L668.3,386.3 L672.3,386.2 L676.3,386.1 L680.3,386.1 L684.3,386.1 L688.3,386.1 L692.3,386.2 L696.3,386.4 L700.3,386.6 L704.4,386.8 L708.4,387.1 L712.4,387.4 L716.4,387.7 L720.4,388.1 L724.3,388.6 L728.3,389.1 L732.3,389.6 L736.3,390.1 L740.3,390.7 L744.3,391.4 L748.2,392.0 L752.2,392.7 L756.1,393.5 L760.1,394.3 L764.0,395.1 L768.0,395.9 L771.9,396.8 L775.8,397.7 L779.7,398.6 L783.6,399.6 L787.5,400.6 L791.4,401.7 L795.3,402.8 L799.1,403.9 L803.0,405.1 L806.8,406.3 L810.6,407.5 L814.4,408.8 L818.2,410.2 L821.9,411.5 L825.7,413.0 L829.4,414.5 L833.1,416.0 L836.7,417.6 L840.4,419.2 L844.0,420.9 L847.6,422.7 L851.1,424.5 L854.7,426.3 L858.2,428.3 L861.6,430.3 L865.1,432.3 L868.5,434.4 L871.9,436.6 L875.2,438.8 L878.5,441.2 L881.8,443.5 L885.0,446.0 L888.2,448.5 L891.2,451.1 L894.2,453.8 L897.1,456.6 L899.9,459.5 L902.5,462.6 L905.0,465.7 L907.4,469.0 L909.5,472.3 L911.5,475.8 L913.4,479.4 L915.2,483.0 L917.0,486.7 L918.8,490.3 L920.6,493.9 L922.5,497.4 L924.5,500.8 L926.7,504.1 L929.1,507.3 L931.7,510.2 L934.5,513.0 L937.5,515.6 L940.7,518.1 L943.9,520.5 L947.3,522.8 L950.8,524.9 L954.3,527.0 L957.9,529.0 L961.5,530.9 L965.1,532.7 L968.8,534.5 L972.4,536.2 L976.1,537.8 L979.8,539.3 L983.5,540.7 L987.3,541.9 L991.1,543.1 L994.9,544.1 L998.8,545.0 L1002.7,545.7 L1006.7,546.3 L1010.6,546.9 L1014.6,547.5 L1018.5,548.1 L1022.5,548.9 L1026.3,549.9 L1030.1,551.1 L1033.8,552.7 L1037.4,554.4 L1041.0,556.4 L1044.5,558.5 L1047.9,560.7 L1051.3,563.1 L1054.3,565.6 L1057.0,568.4 L1059.4,571.5 L1061.4,574.9 L1063.2,578.5 L1064.8,582.2 L1066.3,586.0 L1067.7,589.8 L1069.1,593.7 L1070.5,597.5 L1072.1,601.3 L1073.8,604.9 L1075.8,608.4 L1077.9,611.7 L1080.1,614.9 L1082.6,618.1 L1085.1,621.1 L1087.8,624.0 L1090.5,626.9 L1093.4,629.7 L1096.3,632.4 L1099.2,635.1 L1102.2,637.8 L1105.2,640.4 L1108.3,643.0 L1111.4,645.6 L1114.5,648.2 L1117.6,650.8 L1120.7,653.4 L1123.7,656.0 L1126.8,658.5 L1129.9,661.2 L1132.9,663.8 L1135.9,666.5 L1138.8,669.2 L1141.8,671.9 L1144.6,674.7 L1147.4,677.6 L1150.1,680.5 L1152.7,683.4 L1155.3,686.5 L1157.8,689.6 L1160.3,692.7 L1162.7,695.9 L1165.0,699.2 L1167.2,702.5 L1169.5,705.8 L1171.6,709.2 L1173.7,712.7 L1175.8,716.1 L1177.9,719.6 L1179.9,723.1 L1181.8,726.6 L1183.8,730.2 L1185.7,733.8 L1187.6,737.3 L1189.5,740.9 L1191.3,744.5 L1193.2,748.1 L1195.0,751.7 L1196.8,755.3 L1198.7,758.9 L1200.5,762.5 L1202.3,766.1 L1204.1,769.7 L1206.0,773.2 L1207.8,776.7 L1209.7,780.3 L1211.5,783.8 L1213.4,787.3 L1215.3,790.8 L1217.2,794.3 L1219.2,797.8 L1221.1,801.3 L1223.1,804.7 L1225.1,808.2 L1227.1,811.6 L1229.2,815.1 L1231.2,818.5 L1233.3,821.9 L1235.4,825.4 L1237.4,828.8 L1239.5,832.3 L1241.5,835.7 L1243.6,839.2 L1245.6,842.7 L1247.5,846.2 L1249.5,849.7 L1251.4,853.2 L1253.3,856.7 L1255.2,860.2 L1257.1,863.8 L1258.9,867.3 L1260.8,870.9 L1262.6,874.5 L1264.5,878.0 L1266.3,881.6 L1268.1,885.2 L1269.9,888.8 L1271.7,892.3 L1273.5,895.9 L1275.4,899.5 L1277.2,903.1 L1279.0,906.6 L1280.9,910.2 L1282.7,913.8 L1284.5,917.3 L1286.4,920.9 L1288.3,924.4 L1290.2,927.9 L1292.1,931.5 L1294.0,935.0 L1296.0,938.5 L1297.9,942.0 L1299.9,945.5 L1301.9,949.0 L1303.9,952.4 L1305.9,955.9 L1308.0,959.4 L1310.0,962.8 L1312.1,966.2 L1314.2,969.7 L1316.3,973.1 L1318.4,976.5 L1320.5,979.9 L1322.7,983.3 L1324.8,986.7 L1327.0,990.1 L1329.1,993.5 L1331.3,996.8 L1333.5,1000.2 L1335.7,1003.5 L1338.0,1006.9 L1340.2,1010.2 L1342.4,1013.5 L1344.7,1016.9 L1347.0,1020.2 L1349.2,1023.5 L1351.5,1026.8 L1353.8,1030.1 L1356.1,1033.4 L1358.4,1036.6 L1360.8,1039.9 L1363.1,1043.2 L1365.4,1046.4 L1367.8,1049.7 L1370.1,1052.9 L1372.5,1056.1 L1374.9,1059.4 L1377.3,1062.6 L1379.6,1065.8 L1382.0,1069.0 L1384.4,1072.2 L1386.8,1075.4 L1389.3,1078.6" fill="none" stroke="#ff0000" stroke-width="7.6" stroke-linecap="round" stroke-linejoin="round"/>
<path d="M1376.7,1060.7 L1377.6,1062.2 L1378.6,1063.7 L1379.6,1065.2 L1380.6,1066.6 L1381.6,1068.2 L1382.7,1069.6 L1383.8,1071.0 L1384.5,1072.7 L1385.5,1074.2 L1386.8,1075.5 L1387.8,1077.1 L1388.7,1078.6 L1389.9,1080.0 L1391.2,1081.3 L1392.5,1082.6 L1393.1,1084.5 L1394.1,1086.0 L1395.4,1087.3 L1396.8,1088.5 L1397.1,1090.6 L1398.5,1091.8 L1399.7,1093.2 L1400.2,1095.2 L1402.2,1095.9 L1404.2,1096.5 L1405.5,1097.9 L1407.0,1099.0 L1406.9,1101.5 L1408.4,1102.6 L1409.8,1103.8 L1410.5,1105.6 L1412.6,1106.2 L1413.6,1107.7 L1415.8,1108.2 L1416.8,1109.7 L1417.6,1111.5 L1417.2,1114.4 L1418.2,1116.0 L1420.5,1116.3 L1421.8,1117.6 L1423.3,1118.6 L1424.7,1119.8 L1426.9,1120.1 L1429.1,1120.4 L1430.2,1121.8 L1429.9,1124.8 L1430.2,1127.3 L1432.5,1127.4 L1434.3,1128.1 L1434.8,1130.3 L1436.7,1130.8 L1438.5,1131.5 L1440.0,1132.5 L1441.6,1133.3 L1443.4,1133.9 L1445.2,1134.5 L1445.9,1136.6 L1447.1,1137.9 L1448.4,1139.4 L1450.7,1139.1 L1452.9,1138.9 L1453.5,1141.3 L1454.2,1143.6 L1456.5,1143.2 L1458.6,1143.1 L1460.3,1143.6 L1461.7,1144.7 L1463.1,1145.9 L1464.5,1146.9 L1465.4,1149.2 L1467.3,1149.3 L1468.8,1150.3 L1469.9,1152.3 L1471.5,1152.9 L1473.7,1152.4 L1475.3,1153.2 L1476.9,1154.0 L1478.9,1153.6 L1480.9,1153.3 L1482.0,1155.5 L1483.4,1156.9 L1485.4,1156.7 L1487.4,1156.2 L1489.1,1156.8 L1490.8,1157.2 L1492.3,1158.3 L1493.7,1160.3 L1495.4,1161.1 L1497.3,1160.8 L1499.1,1160.8 L1500.9,1161.0 L1502.8,1160.8 L1504.6,1160.7 L1506.5,1160.6 L1508.1,1162.0 L1509.6,1164.1 L1511.5,1163.5 L1513.5,1162.3 L1515.4,1162.0 L1517.2,1162.2 L1518.8,1163.5 L1520.6,1163.7 L1522.6,1163.0 L1524.1,1164.2 L1525.9,1164.7 L1527.4,1166.2 L1529.1,1166.5 L1530.7,1167.3 L1532.8,1166.3 L1534.6,1166.4 L1536.1,1167.6 L1537.6,1168.7 L1539.5,1168.3 L1541.5,1167.4 L1543.0,1168.4 L1544.7,1168.9 L1546.4,1168.7 L1548.1,1169.3 L1549.6,1171.0 L1551.4,1169.7 L1553.0,1169.1 L1554.8,1169.9 L1556.5,1169.5 L1558.2,1169.0 L1560.0,1169.0 L1561.7,1168.4 L1563.4,1167.7 L1565.2,1167.4 L1566.6,1166.1 L1568.0,1164.7 L1569.7,1164.2 L1571.5,1164.0 L1573.3,1164.0 L1575.1,1162.8 L1577.0,1162.4 L1578.7,1163.8 L1580.7,1163.3 L1582.6,1163.6 L1583.9,1165.7 L1585.6,1166.3 L1587.1,1167.3 L1589.0,1167.0 L1590.6,1166.3 L1592.0,1166.3 L1593.4,1166.8 L1594.9,1166.6 L1596.1,1165.5 L1597.3,1164.3 L1598.1,1162.3 L1600.1,1160.4" fill="none" stroke="#ff0000" stroke-width="8.4" stroke-linecap="round" stroke-linejoin="round"/>
<path d="M871.9,2135.4 L876.1,2137.9 L879.9,2139.2 L883.5,2139.4 L886.9,2139.0 L890.3,2138.1 L893.9,2137.2 L897.7,2136.4 L901.8,2135.8 L906.0,2135.5 L910.4,2135.2 L914.9,2134.9 L919.4,2134.6 L923.8,2134.2 L928.1,2133.6 L932.3,2132.8 L936.2,2131.6 L939.9,2130.2 L943.4,2128.5 L946.7,2126.6 L949.8,2124.4 L952.8,2122.0 L955.5,2119.4 L958.2,2116.7 L960.6,2113.7 L963.0,2110.6 L965.2,2107.4 L967.3,2104.0 L969.3,2100.6 L971.2,2097.1 L973.0,2093.4 L974.8,2089.8 L976.5,2086.1 L978.1,2082.4 L979.7,2078.7 L981.2,2074.9 L982.7,2071.2 L984.1,2067.4 L985.5,2063.6 L986.9,2059.9 L988.2,2056.1 L989.4,2052.3 L990.7,2048.5 L991.8,2044.6 L993.0,2040.8 L994.1,2037.0 L995.1,2033.1 L996.2,2029.2 L997.1,2025.4 L998.1,2021.5 L999.0,2017.6 L999.9,2013.7 L1000.7,2009.8 L1001.5,2005.9 L1002.3,2002.0 L1003.1,1998.1 L1003.8,1994.1 L1004.5,1990.2 L1005.2,1986.3 L1005.8,1982.3 L1006.4,1978.3 L1007.0,1974.4 L1007.6,1970.4 L1008.1,1966.5 L1008.7,1962.5 L1009.2,1958.5 L1009.6,1954.5 L1010.1,1950.5 L1010.6,1946.5 L1011.0,1942.5 L1011.4,1938.5 L1011.8,1934.5 L1012.2,1930.5 L1012.5,1926.5 L1012.9,1922.5 L1013.2,1918.5 L1013.6,1914.5 L1013.9,1910.5 L1014.2,1906.4 L1014.5,1902.4 L1014.8,1898.4 L1015.1,1894.4 L1015.4,1890.4 L1015.7,1886.3 L1016.0,1882.3 L1016.2,1878.3 L1016.5,1874.3 L1016.8,1870.2 L1017.1,1866.2 L1017.3,1862.2 L1017.6,1858.2 L1017.9,1854.2 L1018.2,1850.2 L1018.5,1846.1 L1018.8,1842.1 L1019.1,1838.1 L1019.4,1834.1 L1019.7,1830.1 L1020.0,1826.1 L1020.3,1822.1 L1020.6,1818.1 L1020.9,1814.1 L1021.2,1810.1 L1021.5,1806.1 L1021.8,1802.1 L1022.2,1798.1 L1022.5,1794.1 L1022.8,1790.1 L1023.1,1786.1 L1023.4,1782.2 L1023.8,1778.2 L1024.1,1774.2 L1024.4,1770.2 L1024.7,1766.2 L1025.0,1762.2 L1025.4,1758.2 L1025.7,1754.2 L1026.0,1750.2 L1026.3,1746.3 L1026.6,1742.3 L1027.0,1738.3 L1027.3,1734.3 L1027.6,1730.3 L1027.9,1726.3 L1028.2,1722.3 L1028.5,1718.3 L1028.8,1714.4 L1029.1,1710.4 L1029.4,1706.4 L1029.7,1702.4 L1030.0,1698.4 L1030.3,1694.4 L1030.6,1690.4 L1030.8,1686.4 L1031.1,1682.4 L1031.4,1678.4 L1031.7,1674.4 L1031.9,1670.4 L1032.2,1666.4 L1032.4,1662.4 L1032.7,1658.4 L1032.9,1654.4 L1033.2,1650.4 L1033.4,1646.4 L1033.6,1642.4 L1033.9,1638.4 L1034.1,1634.4 L1034.3,1630.4 L1034.6,1626.4 L1034.8,1622.4 L1035.0,1618.4 L1035.2,1614.4 L1035.5,1610.4 L1035.7,1606.4 L1035.9,1602.4 L1036.1,1598.4 L1036.3,1594.4 L1036.5,1590.4 L1036.7,1586.3 L1036.9,1582.3 L1037.1,1578.3 L1037.4,1574.3 L1037.6,1570.3 L1037.8,1566.3 L1038.0,1562.3 L1038.2,1558.3 L1038.4,1554.2 L1038.6,1550.2 L1038.8,1546.2 L1039.0,1542.2 L1039.2,1538.2 L1039.4,1534.2 L1039.6,1530.2 L1039.8,1526.2 L1040.1,1522.1 L1040.3,1518.1 L1040.5,1514.1 L1040.7,1510.1 L1040.9,1506.1 L1041.1,1502.1 L1041.4,1498.1 L1041.6,1494.1 L1041.8,1490.0 L1042.1,1486.0 L1042.3,1482.0 L1042.5,1478.0 L1042.8,1474.0 L1043.0,1470.0 L1043.2,1466.0 L1043.5,1462.0 L1043.7,1458.0 L1043.9,1453.9 L1044.2,1449.9 L1044.4,1445.9 L1044.6,1441.9 L1044.9,1437.9 L1045.1,1433.9 L1045.3,1429.9 L1045.6,1425.9 L1045.8,1421.9 L1046.0,1417.9 L1046.2,1413.9 L1046.4,1409.9 L1046.7,1405.9 L1046.9,1402.0 L1047.1,1398.0 L1047.3,1394.0 L1047.5,1390.0 L1047.7,1386.0 L1047.9,1382.0 L1048.1,1378.0 L1048.2,1374.1 L1048.4,1370.1 L1048.6,1366.1 L1048.8,1362.1 L1048.9,1358.2 L1049.1,1354.2 L1049.2,1350.2 L1049.4,1346.2 L1049.6,1342.3 L1049.8,1338.3 L1050.0,1334.2 L1050.2,1330.2 L1050.4,1326.2 L1050.6,1322.1 L1050.9,1318.1 L1051.2,1314.0 L1051.5,1309.8 L1051.9,1305.7 L1052.3,1301.5 L1052.7,1297.3 L1053.2,1293.1 L1053.7,1288.8 L1054.2,1284.5 L1054.8,1280.1 L1055.5,1276.0 L1056.1,1272.6 L1056.7,1270.4 L1057.3,1269.9 L1057.8,1271.2 L1058.3,1274.1 L1058.7,1277.9 L1059.1,1282.2 L1059.5,1286.6 L1059.8,1290.9 L1060.1,1295.1 L1060.5,1299.3 L1060.8,1303.5 L1061.0,1307.7 L1061.3,1311.8 L1061.6,1315.8 L1061.8,1319.9 L1062.1,1323.9 L1062.3,1328.0 L1062.5,1332.0 L1062.8,1336.0 L1063.0,1340.0 L1063.2,1344.0 L1063.4,1348.0 L1063.6,1352.0 L1063.8,1356.0 L1063.9,1360.0 L1064.1,1364.0 L1064.3,1368.0 L1064.4,1372.0 L1064.6,1376.0 L1064.8,1380.0 L1064.9,1384.0 L1065.1,1388.0 L1065.2,1392.0 L1065.4,1395.9 L1065.5,1399.9 L1065.6,1403.9 L1065.8,1407.9 L1065.9,1411.9 L1066.0,1415.9 L1066.2,1419.9 L1066.3,1423.9 L1066.4,1427.9 L1066.5,1431.9 L1066.6,1435.9 L1066.8,1439.8 L1066.9,1443.8 L1067.0,1447.8 L1067.1,1451.8 L1067.2,1455.8 L1067.3,1459.8 L1067.4,1463.8 L1067.6,1467.8 L1067.7,1471.8 L1067.8,1475.8 L1067.9,1479.8 L1068.0,1483.8 L1068.1,1487.8 L1068.3,1491.9 L1068.4,1495.9 L1068.5,1499.9 L1068.6,1503.9 L1068.7,1507.9 L1068.8,1511.9 L1069.0,1515.9 L1069.1,1519.9 L1069.2,1524.0 L1069.3,1528.0 L1069.4,1532.0 L1069.6,1536.0 L1069.7,1540.0 L1069.8,1544.0 L1069.9,1548.1 L1070.0,1552.1 L1070.1,1556.1 L1070.3,1560.1 L1070.4,1564.1 L1070.5,1568.2 L1070.6,1572.2 L1070.7,1576.2 L1070.9,1580.2 L1071.0,1584.3 L1071.1,1588.3 L1071.2,1592.3 L1071.4,1596.3 L1071.5,1600.4 L1071.6,1604.4 L1071.7,1608.4 L1071.8,1612.4 L1072.0,1616.4 L1072.1,1620.5 L1072.2,1624.5 L1072.3,1628.5 L1072.5,1632.5 L1072.6,1636.6 L1072.7,1640.6 L1072.8,1644.6 L1073.0,1648.6 L1073.1,1652.7 L1073.2,1656.7 L1073.3,1660.7 L1073.5,1664.7 L1073.6,1668.7 L1073.7,1672.8 L1073.8,1676.8 L1074.0,1680.8 L1074.1,1684.8 L1074.2,1688.8 L1074.3,1692.9 L1074.5,1696.9 L1074.6,1700.9 L1074.7,1704.9 L1074.9,1708.9 L1075.0,1712.9 L1075.1,1716.9 L1075.2,1721.0 L1075.4,1725.0 L1075.5,1729.0 L1075.6,1733.0 L1075.8,1737.0 L1075.9,1741.0 L1076.0,1745.0 L1076.1,1749.0 L1076.3,1753.0 L1076.4,1757.0 L1076.5,1761.0 L1076.7,1765.0 L1076.8,1769.0 L1076.9,1773.0 L1077.1,1777.0 L1077.2,1781.0 L1077.3,1785.0 L1077.5,1789.0 L1077.6,1793.0 L1077.7,1797.0 L1077.9,1800.9 L1078.0,1804.9 L1078.1,1808.9 L1078.3,1812.9 L1078.4,1816.9 L1078.6,1820.9 L1078.7,1824.8 L1078.9,1828.8 L1079.0,1832.8 L1079.1,1836.8 L1079.3,1840.8 L1079.5,1844.7 L1079.6,1848.7 L1079.8,1852.7 L1079.9,1856.7 L1080.1,1860.7 L1080.3,1864.6 L1080.5,1868.6 L1080.7,1872.6 L1080.8,1876.6 L1081.0,1880.6 L1081.2,1884.5 L1081.4,1888.5 L1081.6,1892.5 L1081.8,1896.5 L1082.1,1900.5 L1082.3,1904.5 L1082.5,1908.4 L1082.7,1912.4 L1083.0,1916.4 L1083.2,1920.4 L1083.5,1924.4 L1083.8,1928.4 L1084.0,1932.4 L1084.3,1936.4 L1084.6,1940.4 L1084.9,1944.4 L1085.2,1948.4 L1085.5,1952.4 L1085.8,1956.4 L1086.1,1960.4 L1086.5,1964.4 L1086.8,1968.5 L1087.2,1972.5 L1087.5,1976.5 L1087.9,1980.5 L1088.3,1984.6 L1088.7,1988.6 L1089.1,1992.6 L1089.5,1996.7 L1089.9,2000.7 L1090.3,2004.7 L1090.8,2008.8 L1091.2,2012.8 L1091.7,2016.9 L1092.1,2021.0 L1092.6,2025.0 L1093.1,2029.1 L1093.6,2033.2 L1094.2,2037.2 L1094.7,2041.3 L1095.2,2045.4 L1095.8,2049.5 L1096.4,2053.6 L1097.0,2057.7 L1097.6,2061.7 L1098.3,2065.8 L1099.0,2069.8 L1099.8,2073.9 L1100.6,2077.8 L1101.5,2081.7 L1102.5,2085.6 L1103.6,2089.4 L1104.7,2093.2 L1106.0,2096.9 L1107.4,2100.5 L1108.9,2104.0 L1110.5,2107.4 L1112.3,2110.8 L1114.2,2114.0 L1116.3,2117.1 L1118.5,2120.1 L1120.9,2123.0 L1123.5,2125.8 L1126.3,2128.4 L1129.2,2130.9 L1132.4,2133.2 L1135.7,2135.3 L1139.3,2137.3 L1143.0,2139.1 L1146.9,2140.7 L1150.8,2142.1 L1154.9,2143.2 L1159.0,2144.0 L1163.1,2144.5 L1167.2,2144.8 L1171.2,2144.7 L1175.2,2144.2 L1179.1,2143.4" fill="none" stroke="#ff0000" stroke-width="8.2" stroke-linecap="round" stroke-linejoin="round"/>
<path d="M1177.8,2136.0 L1181.8,2135.0 L1185.6,2133.8 L1189.3,2132.4 L1192.9,2130.7 L1196.4,2128.9 L1199.7,2126.8 L1202.9,2124.6 L1206.1,2122.2 L1209.1,2119.6 L1212.0,2116.9 L1214.8,2114.0 L1217.5,2111.0 L1220.1,2107.9 L1222.6,2104.7 L1225.0,2101.4 L1227.3,2098.0 L1229.5,2094.6 L1231.6,2091.1 L1233.6,2087.5 L1235.6,2084.0 L1237.5,2080.4 L1239.2,2076.7 L1240.9,2073.1 L1242.6,2069.4 L1244.1,2065.7 L1245.6,2062.0 L1247.1,2058.3 L1248.4,2054.5 L1249.7,2050.8 L1251.0,2047.0 L1252.2,2043.2 L1253.4,2039.3 L1254.5,2035.5 L1255.6,2031.6 L1256.6,2027.8 L1257.6,2023.9 L1258.6,2020.0 L1259.5,2016.1 L1260.5,2012.3 L1261.4,2008.4 L1262.2,2004.4 L1263.1,2000.5 L1264.0,1996.6 L1264.8,1992.7 L1265.7,1988.8 L1266.5,1984.9 L1267.3,1981.0 L1268.1,1977.0 L1268.9,1973.1 L1269.7,1969.2 L1270.5,1965.3 L1271.3,1961.3 L1272.1,1957.4 L1272.9,1953.5 L1273.6,1949.6 L1274.4,1945.6 L1275.1,1941.7 L1275.9,1937.8 L1276.6,1933.8 L1277.3,1929.9 L1278.1,1925.9 L1278.8,1922.0 L1279.5,1918.1 L1280.2,1914.1 L1280.9,1910.2 L1281.6,1906.2 L1282.2,1902.3 L1282.9,1898.3 L1283.6,1894.4 L1284.2,1890.4 L1284.9,1886.5 L1285.5,1882.5 L1286.2,1878.6 L1286.8,1874.6 L1287.4,1870.7 L1288.0,1866.7 L1288.6,1862.7 L1289.3,1858.8 L1289.9,1854.8 L1290.5,1850.9 L1291.0,1846.9 L1291.6,1842.9 L1292.2,1839.0 L1292.8,1835.0 L1293.3,1831.0 L1293.9,1827.1 L1294.5,1823.1 L1295.0,1819.1 L1295.6,1815.1 L1296.1,1811.2 L1296.6,1807.2 L1297.2,1803.2 L1297.7,1799.2 L1298.2,1795.3 L1298.7,1791.3 L1299.2,1787.3 L1299.7,1783.3 L1300.2,1779.4 L1300.7,1775.4 L1301.2,1771.4 L1301.7,1767.4 L1302.2,1763.4 L1302.7,1759.4 L1303.2,1755.5 L1303.6,1751.5 L1304.1,1747.5 L1304.5,1743.5 L1305.0,1739.5 L1305.5,1735.5 L1305.9,1731.5 L1306.4,1727.6 L1306.8,1723.6 L1307.2,1719.6 L1307.7,1715.6 L1308.1,1711.6 L1308.5,1707.6 L1308.9,1703.6 L1309.4,1699.6 L1309.8,1695.6 L1310.2,1691.6 L1310.6,1687.6 L1311.0,1683.6 L1311.4,1679.6 L1311.8,1675.7 L1312.2,1671.7 L1312.6,1667.7 L1313.0,1663.7 L1313.3,1659.7 L1313.7,1655.7 L1314.1,1651.7 L1314.5,1647.7 L1314.8,1643.7 L1315.2,1639.7 L1315.6,1635.7 L1315.9,1631.7 L1316.3,1627.7 L1316.7,1623.7 L1317.0,1619.7 L1317.4,1615.7 L1317.7,1611.7 L1318.0,1607.7 L1318.4,1603.7 L1318.7,1599.7 L1319.1,1595.7 L1319.4,1591.7 L1319.7,1587.7 L1320.1,1583.7 L1320.4,1579.7 L1320.7,1575.7 L1321.0,1571.7 L1321.4,1567.7 L1321.7,1563.7 L1322.0,1559.7 L1322.3,1555.7 L1322.6,1551.7 L1322.9,1547.7 L1323.2,1543.7 L1323.5,1539.7 L1323.8,1535.7 L1324.1,1531.7 L1324.5,1527.7 L1324.7,1523.7 L1325.0,1519.8 L1325.3,1515.8 L1325.6,1511.8 L1325.9,1507.8 L1326.2,1503.8 L1326.5,1499.8 L1326.8,1495.8 L1327.1,1491.8 L1327.4,1487.8 L1327.6,1483.8 L1327.9,1479.8 L1328.2,1475.8 L1328.5,1471.8 L1328.8,1467.9 L1329.0,1463.9 L1329.3,1459.9 L1329.6,1455.9 L1329.9,1451.9 L1330.1,1447.9 L1330.4,1443.9 L1330.7,1440.0 L1331.0,1436.0 L1331.2,1432.0 L1331.5,1428.0 L1331.8,1424.0 L1332.0,1420.0 L1332.3,1416.1 L1332.6,1412.1 L1332.8,1408.1 L1333.1,1404.1 L1333.4,1400.2 L1333.6,1396.2 L1333.9,1392.2 L1334.2,1388.2 L1334.4,1384.3 L1334.7,1380.3 L1335.0,1376.3 L1335.2,1372.3 L1335.5,1368.4 L1335.8,1364.4 L1336.1,1360.4 L1336.3,1356.4 L1336.6,1352.4 L1336.9,1348.3 L1337.2,1344.3 L1337.5,1340.3 L1337.9,1336.2 L1338.2,1332.1 L1338.5,1328.0 L1338.9,1323.9 L1339.2,1319.8 L1339.6,1315.7 L1339.9,1311.5 L1340.3,1307.3 L1340.7,1303.1 L1341.2,1298.9 L1341.6,1294.7 L1342.1,1290.5 L1342.7,1286.3 L1343.3,1282.2 L1344.0,1278.1 L1344.9,1274.1 L1345.8,1270.5 L1346.8,1267.7 L1347.7,1266.1 L1348.6,1266.3 L1349.4,1268.1 L1350.2,1271.2 L1350.9,1275.0 L1351.5,1279.1 L1352.2,1283.2 L1352.8,1287.3 L1353.4,1291.3 L1353.9,1295.4 L1354.4,1299.4 L1355.0,1303.5 L1355.4,1307.5 L1355.9,1311.6 L1356.4,1315.6 L1356.8,1319.6 L1357.2,1323.7 L1357.6,1327.7 L1358.0,1331.7 L1358.3,1335.7 L1358.7,1339.8 L1359.0,1343.8 L1359.4,1347.8 L1359.7,1351.8 L1360.0,1355.8 L1360.3,1359.8 L1360.6,1363.8 L1360.9,1367.8 L1361.1,1371.8 L1361.4,1375.8 L1361.7,1379.8 L1361.9,1383.8 L1362.2,1387.8 L1362.5,1391.8 L1362.7,1395.8 L1363.0,1399.8 L1363.3,1403.8 L1363.5,1407.8 L1363.8,1411.8 L1364.0,1415.8 L1364.3,1419.8 L1364.6,1423.8 L1364.8,1427.8 L1365.1,1431.8 L1365.3,1435.8 L1365.6,1439.8 L1365.9,1443.8 L1366.1,1447.8 L1366.4,1451.8 L1366.7,1455.8 L1366.9,1459.8 L1367.2,1463.8 L1367.5,1467.8 L1367.7,1471.8 L1368.0,1475.8 L1368.3,1479.8 L1368.5,1483.8 L1368.8,1487.8 L1369.1,1491.8 L1369.3,1495.8 L1369.6,1499.8 L1369.9,1503.8 L1370.2,1507.8 L1370.4,1511.8 L1370.7,1515.8 L1371.0,1519.8 L1371.3,1523.8 L1371.6,1527.8 L1371.9,1531.8 L1372.1,1535.8 L1372.4,1539.8 L1372.7,1543.8 L1373.0,1547.8 L1373.3,1551.8 L1373.6,1555.8 L1373.9,1559.8 L1374.2,1563.8 L1374.5,1567.8 L1374.8,1571.8 L1375.1,1575.8 L1375.5,1579.8 L1375.8,1583.8 L1376.1,1587.8 L1376.4,1591.8 L1376.7,1595.8 L1377.1,1599.8 L1377.4,1603.8 L1377.7,1607.8 L1378.0,1611.8 L1378.4,1615.8 L1378.7,1619.8 L1379.0,1623.8 L1379.4,1627.7 L1379.7,1631.7 L1380.1,1635.7 L1380.4,1639.7 L1380.7,1643.7 L1381.1,1647.7 L1381.4,1651.7 L1381.8,1655.7 L1382.1,1659.7 L1382.5,1663.7 L1382.8,1667.7 L1383.2,1671.7 L1383.5,1675.6 L1383.9,1679.6 L1384.2,1683.6 L1384.6,1687.6 L1384.9,1691.6 L1385.3,1695.6 L1385.6,1699.6 L1386.0,1703.6 L1386.3,1707.6 L1386.7,1711.6 L1387.0,1715.6 L1387.4,1719.5 L1387.7,1723.5 L1388.1,1727.5 L1388.4,1731.5 L1388.8,1735.5 L1389.1,1739.5 L1389.4,1743.5 L1389.8,1747.5 L1390.1,1751.5 L1390.5,1755.5 L1390.8,1759.5 L1391.2,1763.5 L1391.5,1767.5 L1391.8,1771.4 L1392.2,1775.4 L1392.5,1779.4 L1392.8,1783.4 L1393.2,1787.4 L1393.5,1791.4 L1393.8,1795.4 L1394.1,1799.4 L1394.5,1803.4 L1394.8,1807.4 L1395.1,1811.4 L1395.4,1815.4 L1395.7,1819.4 L1396.0,1823.4 L1396.3,1827.4 L1396.7,1831.4 L1397.0,1835.4 L1397.3,1839.4 L1397.6,1843.4 L1397.8,1847.4 L1398.1,1851.4 L1398.4,1855.4 L1398.7,1859.4 L1399.0,1863.4 L1399.3,1867.4 L1399.5,1871.4 L1399.8,1875.4 L1400.1,1879.4 L1400.3,1883.4 L1400.6,1887.4 L1400.9,1891.4 L1401.1,1895.4 L1401.4,1899.4 L1401.7,1903.4 L1401.9,1907.4 L1402.2,1911.5 L1402.5,1915.5 L1402.7,1919.5 L1403.0,1923.5 L1403.3,1927.5 L1403.6,1931.5 L1403.9,1935.5 L1404.2,1939.5 L1404.5,1943.5 L1404.8,1947.5 L1405.1,1951.5 L1405.4,1955.5 L1405.8,1959.5 L1406.1,1963.5 L1406.5,1967.5 L1406.8,1971.4 L1407.2,1975.4 L1407.6,1979.4 L1408.0,1983.4 L1408.4,1987.4 L1408.8,1991.4 L1409.2,1995.4 L1409.7,1999.3 L1410.1,2003.3 L1410.6,2007.3 L1411.1,2011.3 L1411.6,2015.2 L1412.1,2019.2 L1412.7,2023.2 L1413.2,2027.1 L1413.8,2031.1 L1414.4,2035.1 L1415.0,2039.0 L1415.6,2043.0 L1416.3,2046.9 L1417.0,2050.9 L1417.7,2054.8 L1418.4,2058.7 L1419.1,2062.7 L1419.9,2066.6 L1420.7,2070.5 L1421.5,2074.5 L1422.3,2078.4 L1423.2,2082.3 L1424.1,2086.2 L1425.0,2090.1 L1425.9,2094.0 L1426.9,2097.9 L1428.0,2101.8 L1429.1,2105.6 L1430.4,2109.4 L1431.7,2113.0 L1433.3,2116.7 L1435.0,2120.2 L1437.0,2123.6 L1439.1,2126.8 L1441.5,2130.0 L1444.2,2132.9 L1447.2,2135.7 L1450.4,2138.4 L1453.9,2140.9 L1457.5,2143.3 L1461.1,2145.6 L1464.7,2147.8 L1468.2,2150.0 L1471.5,2152.1 L1474.6,2154.3 L1477.3,2156.4" fill="none" stroke="#0000ff" stroke-width="8.3" stroke-linecap="round" stroke-linejoin="round"/>
<path d="M902.4,3087.4 L906.1,3086.5 L909.8,3085.6 L913.7,3084.9 L917.7,3084.1 L921.7,3083.4 L925.8,3082.7 L929.9,3081.9 L933.9,3081.0 L937.9,3080.1 L941.7,3078.9 L945.5,3077.6 L949.1,3076.1 L952.5,3074.4 L955.8,3072.4 L958.8,3070.1 L961.6,3067.6 L964.2,3064.8 L966.6,3061.9 L968.9,3058.7 L971.0,3055.4 L973.0,3051.9 L974.8,3048.3 L976.6,3044.6 L978.2,3040.9 L979.8,3037.1 L981.3,3033.2 L982.8,3029.4 L984.2,3025.5 L985.6,3021.7 L987.0,3017.8 L988.3,3013.9 L989.5,3010.0 L990.7,3006.2 L991.9,3002.3 L993.0,2998.4 L994.1,2994.5 L995.2,2990.6 L996.2,2986.7 L997.2,2982.8 L998.2,2978.9 L999.1,2975.0 L1000.0,2971.1 L1000.8,2967.2 L1001.7,2963.3 L1002.5,2959.4 L1003.2,2955.5 L1004.0,2951.5 L1004.7,2947.6 L1005.4,2943.7 L1006.1,2939.8 L1006.7,2935.8 L1007.3,2931.9 L1007.9,2927.9 L1008.5,2924.0 L1009.1,2920.1 L1009.6,2916.1 L1010.1,2912.2 L1010.6,2908.2 L1011.1,2904.3 L1011.6,2900.3 L1012.0,2896.3 L1012.5,2892.4 L1012.9,2888.4 L1013.3,2884.4 L1013.8,2880.5 L1014.1,2876.5 L1014.5,2872.5 L1014.9,2868.6 L1015.3,2864.6 L1015.7,2860.6 L1016.0,2856.6 L1016.4,2852.6 L1016.7,2848.7 L1017.1,2844.7 L1017.4,2840.7 L1017.8,2836.7 L1018.1,2832.7 L1018.5,2828.7 L1018.8,2824.7 L1019.1,2820.7 L1019.5,2816.7 L1019.8,2812.7 L1020.1,2808.7 L1020.4,2804.7 L1020.8,2800.7 L1021.1,2796.7 L1021.4,2792.7 L1021.7,2788.7 L1022.0,2784.7 L1022.3,2780.7 L1022.6,2776.7 L1023.0,2772.7 L1023.3,2768.7 L1023.6,2764.7 L1023.9,2760.7 L1024.2,2756.6 L1024.5,2752.6 L1024.8,2748.6 L1025.1,2744.6 L1025.4,2740.6 L1025.7,2736.6 L1025.9,2732.6 L1026.2,2728.6 L1026.5,2724.6 L1026.8,2720.5 L1027.1,2716.5 L1027.4,2712.5 L1027.7,2708.5 L1028.0,2704.5 L1028.3,2700.5 L1028.6,2696.5 L1028.8,2692.5 L1029.1,2688.5 L1029.4,2684.5 L1029.7,2680.4 L1030.0,2676.4 L1030.3,2672.4 L1030.6,2668.4 L1030.8,2664.4 L1031.1,2660.4 L1031.4,2656.4 L1031.7,2652.4 L1032.0,2648.4 L1032.2,2644.4 L1032.5,2640.4 L1032.8,2636.4 L1033.1,2632.4 L1033.4,2628.4 L1033.6,2624.4 L1033.9,2620.3 L1034.2,2616.3 L1034.4,2612.3 L1034.7,2608.3 L1035.0,2604.3 L1035.2,2600.3 L1035.5,2596.3 L1035.8,2592.3 L1036.0,2588.3 L1036.3,2584.3 L1036.6,2580.3 L1036.8,2576.3 L1037.1,2572.3 L1037.3,2568.3 L1037.6,2564.3 L1037.8,2560.3 L1038.1,2556.3 L1038.3,2552.3 L1038.6,2548.3 L1038.8,2544.3 L1039.0,2540.3 L1039.3,2536.3 L1039.5,2532.3 L1039.8,2528.3 L1040.0,2524.3 L1040.2,2520.3 L1040.4,2516.3 L1040.7,2512.3 L1040.9,2508.4 L1041.1,2504.4 L1041.3,2500.4 L1041.5,2496.4 L1041.8,2492.4 L1042.0,2488.4 L1042.2,2484.4 L1042.4,2480.4 L1042.6,2476.4 L1042.8,2472.4 L1043.0,2468.4 L1043.2,2464.4 L1043.4,2460.4 L1043.6,2456.4 L1043.8,2452.4 L1043.9,2448.4 L1044.1,2444.4 L1044.3,2440.4 L1044.5,2436.4 L1044.7,2432.4 L1044.9,2428.5 L1045.0,2424.5 L1045.2,2420.5 L1045.4,2416.5 L1045.6,2412.5 L1045.8,2408.5 L1046.0,2404.5 L1046.2,2400.5 L1046.3,2396.5 L1046.5,2392.5 L1046.7,2388.4 L1046.9,2384.4 L1047.1,2380.4 L1047.3,2376.4 L1047.5,2372.4 L1047.7,2368.4 L1047.9,2364.4 L1048.1,2360.4 L1048.3,2356.4 L1048.6,2352.3 L1048.8,2348.3 L1049.0,2344.3 L1049.2,2340.3 L1049.5,2336.2 L1049.7,2332.2 L1050.0,2328.2 L1050.2,2324.1 L1050.5,2320.1 L1050.7,2316.1 L1051.0,2312.0 L1051.3,2308.0 L1051.5,2303.9 L1051.8,2299.9 L1052.1,2295.9 L1052.4,2291.8 L1052.7,2287.8 L1053.1,2283.7 L1053.4,2279.7 L1053.7,2275.7 L1054.0,2271.6 L1054.4,2267.6 L1054.7,2263.6 L1055.1,2259.6 L1055.5,2255.6 L1055.9,2251.6 L1056.3,2247.6 L1056.7,2243.6 L1057.1,2239.6 L1057.5,2235.7 L1057.9,2231.7 L1058.4,2227.9 L1058.9,2225.2 L1059.5,2224.6 L1060.1,2226.4 L1060.8,2229.7 L1061.5,2233.5 L1062.1,2237.4 L1062.5,2241.3 L1063.0,2245.3 L1063.3,2249.3 L1063.6,2253.3 L1063.9,2257.4 L1064.1,2261.5 L1064.3,2265.6 L1064.5,2269.7 L1064.6,2273.9 L1064.8,2278.0 L1064.9,2282.1 L1065.0,2286.2 L1065.2,2290.3 L1065.3,2294.4 L1065.5,2298.5 L1065.6,2302.6 L1065.8,2306.7 L1065.9,2310.7 L1066.1,2314.8 L1066.3,2318.8 L1066.4,2322.8 L1066.6,2326.9 L1066.8,2330.9 L1066.9,2334.9 L1067.1,2338.9 L1067.3,2342.9 L1067.5,2346.9 L1067.7,2350.9 L1067.8,2354.9 L1068.0,2358.9 L1068.2,2362.9 L1068.4,2366.9 L1068.6,2370.9 L1068.7,2374.9 L1068.9,2378.9 L1069.1,2382.9 L1069.3,2386.9 L1069.4,2390.9 L1069.6,2394.8 L1069.8,2398.8 L1069.9,2402.8 L1070.1,2406.8 L1070.2,2410.8 L1070.4,2414.8 L1070.5,2418.8 L1070.7,2422.8 L1070.8,2426.8 L1071.0,2430.8 L1071.1,2434.8 L1071.3,2438.8 L1071.4,2442.8 L1071.6,2446.8 L1071.7,2450.8 L1071.9,2454.8 L1072.0,2458.8 L1072.1,2462.8 L1072.3,2466.8 L1072.4,2470.8 L1072.5,2474.8 L1072.7,2478.8 L1072.8,2482.8 L1072.9,2486.8 L1073.0,2490.8 L1073.2,2494.8 L1073.3,2498.8 L1073.4,2502.8 L1073.6,2506.8 L1073.7,2510.8 L1073.8,2514.8 L1073.9,2518.8 L1074.0,2522.8 L1074.2,2526.8 L1074.3,2530.8 L1074.4,2534.8 L1074.5,2538.8 L1074.6,2542.9 L1074.8,2546.9 L1074.9,2550.9 L1075.0,2554.9 L1075.1,2558.9 L1075.2,2562.9 L1075.4,2566.9 L1075.5,2570.9 L1075.6,2574.9 L1075.7,2578.9 L1075.8,2582.9 L1076.0,2586.9 L1076.1,2591.0 L1076.2,2595.0 L1076.3,2599.0 L1076.4,2603.0 L1076.5,2607.0 L1076.7,2611.0 L1076.8,2615.0 L1076.9,2619.0 L1077.0,2623.0 L1077.2,2627.1 L1077.3,2631.1 L1077.4,2635.1 L1077.5,2639.1 L1077.7,2643.1 L1077.8,2647.1 L1077.9,2651.1 L1078.0,2655.1 L1078.2,2659.2 L1078.3,2663.2 L1078.4,2667.2 L1078.6,2671.2 L1078.7,2675.2 L1078.8,2679.2 L1079.0,2683.2 L1079.1,2687.3 L1079.2,2691.3 L1079.4,2695.3 L1079.5,2699.3 L1079.7,2703.3 L1079.8,2707.3 L1080.0,2711.4 L1080.1,2715.4 L1080.3,2719.4 L1080.4,2723.4 L1080.6,2727.4 L1080.7,2731.4 L1080.9,2735.5 L1081.0,2739.5 L1081.2,2743.5 L1081.4,2747.5 L1081.5,2751.5 L1081.7,2755.5 L1081.9,2759.6 L1082.0,2763.6 L1082.2,2767.6 L1082.4,2771.6 L1082.6,2775.6 L1082.8,2779.6 L1082.9,2783.7 L1083.1,2787.7 L1083.3,2791.7 L1083.5,2795.7 L1083.7,2799.7 L1083.9,2803.7 L1084.1,2807.7 L1084.3,2811.8 L1084.5,2815.8 L1084.7,2819.8 L1084.9,2823.8 L1085.1,2827.8 L1085.3,2831.8 L1085.6,2835.8 L1085.8,2839.8 L1086.0,2843.9 L1086.2,2847.9 L1086.4,2851.9 L1086.7,2855.9 L1086.9,2859.9 L1087.1,2863.9 L1087.3,2867.9 L1087.6,2871.9 L1087.8,2875.9 L1088.0,2879.8 L1088.3,2883.8 L1088.5,2887.8 L1088.8,2891.8 L1089.0,2895.8 L1089.3,2899.8 L1089.5,2903.8 L1089.8,2907.7 L1090.0,2911.7 L1090.3,2915.7 L1090.5,2919.6 L1090.8,2923.6 L1091.0,2927.6 L1091.3,2931.5 L1091.6,2935.5 L1091.8,2939.4 L1092.1,2943.4 L1092.4,2947.4 L1092.7,2951.3 L1093.0,2955.3 L1093.3,2959.2 L1093.7,2963.2 L1094.1,2967.2 L1094.5,2971.2 L1094.9,2975.1 L1095.3,2979.1 L1095.8,2983.1 L1096.3,2987.1 L1096.8,2991.2 L1097.3,2995.2 L1097.9,2999.2 L1098.6,3003.3 L1099.2,3007.3 L1099.9,3011.4 L1100.7,3015.5 L1101.5,3019.6 L1102.3,3023.7 L1103.2,3027.8 L1104.2,3031.9 L1105.2,3035.9 L1106.4,3039.9 L1107.6,3043.8 L1108.9,3047.7 L1110.3,3051.5 L1111.7,3055.2 L1113.4,3058.8 L1115.1,3062.3 L1116.9,3065.6 L1118.9,3068.9 L1121.0,3072.0 L1123.3,3074.9 L1125.7,3077.6 L1128.3,3080.2 L1131.0,3082.6 L1133.9,3084.8 L1137.0,3086.8 L1140.2,3088.5 L1143.7,3090.0 L1147.3,3091.3 L1151.2,3092.3 L1155.2,3093.0 L1159.5,3093.4 L1164.0,3093.6 L1168.7,3093.5 L1173.7,3093.0 L1178.9,3092.2" fill="none" stroke="#ff0000" stroke-width="8.4" stroke-linecap="round" stroke-linejoin="round"/>
<line x1="917.4" y1="809.4" x2="1027" y2="605" stroke="#000" stroke-width="4.2"/>
<polygon points="1035,589.6 1016.3,602.4 1034.7,611.5" fill="#000"/>
<path d="M399.4,1687.1 C402.02,1685.53 409.68,1679.97 415.1,1677.7 C420.52,1675.43 425.62,1673.85 431.9,1673.5 C438.18,1673.15 446.53,1673.85 452.8,1675.6 C459.07,1677.35 464.27,1680.87 469.5,1684 C474.73,1687.13 478.27,1691.62 484.2,1694.4 C490.13,1697.18 498.13,1700 505.1,1700.7 C512.07,1701.4 520.07,1700 526,1698.6 C531.93,1697.2 535.47,1694.73 540.7,1692.3 C545.93,1689.87 551.82,1685.73 557.4,1684 C562.98,1682.27 568.62,1681.9 574.2,1681.9 C579.78,1681.9 587.1,1683.23 590.9,1684 C594.7,1684.77 595.98,1686.08 597,1686.5" fill="none" stroke="#ff00ff" stroke-width="11.5" stroke-linecap="butt" stroke-linejoin="round"/>
<polygon points="586.7,1665.1 643.2,1689.8 586.7,1713.3 595,1689.5" fill="#ff00ff"/>
<path d="M720.1,1704.1 C722.92,1702.42 731.18,1696.37 737,1694 C742.82,1691.63 748.27,1690.2 755,1689.9 C761.73,1689.6 771.03,1690.58 777.4,1692.2 C783.77,1693.82 787.57,1697.25 793.2,1699.6 C798.83,1701.95 804.45,1705.25 811.2,1706.3 C817.95,1707.35 827.33,1706.83 833.7,1705.9 C840.07,1704.97 843.78,1703.25 849.4,1700.7 C855.02,1698.15 861.78,1693.03 867.4,1690.6 C873.02,1688.17 877.48,1686.58 883.1,1686.1 C888.72,1685.62 895.48,1686.38 901.1,1687.7 C906.72,1689.02 913.32,1692.45 916.8,1694 C920.28,1695.55 921.13,1696.5 922,1697" fill="none" stroke="#ff00ff" stroke-width="12" stroke-linecap="butt" stroke-linejoin="round"/>
<polygon points="914.6,1656.9 993.7,1692.8 913.5,1726.6 921.3,1694" fill="#ff00ff"/>
<rect x="658.5" y="1572.2" width="41.8" height="226.8" fill="#ffea00" stroke="#333" stroke-width="3.8"/>
<rect x="582.6" y="2478.3" width="53.9" height="293.4" fill="#ffea00" stroke="#333" stroke-width="3.6"/>
<path d="M629.6,2634.1 C632.8,2632.1 642.38,2624.9 648.8,2622.1 C655.22,2619.3 660.88,2617.9 668.1,2617.3 C675.32,2616.7 684.9,2617.3 692.1,2618.5 C699.3,2619.7 705.3,2621.9 711.3,2624.5 C717.3,2627.1 721.28,2631.5 728.1,2634.1 C734.92,2636.7 744.18,2639.5 752.2,2640.1 C760.22,2640.7 769,2639.3 776.2,2637.7 C783.4,2636.1 789.38,2633.5 795.4,2630.5 C801.42,2627.5 806.28,2622.52 812.3,2619.7 C818.32,2616.88 825.5,2614.62 831.5,2613.6 C837.5,2612.58 844.88,2613.37 848.3,2613.6 C851.72,2613.83 851.38,2614.77 852,2615" fill="none" stroke="#ff00ff" stroke-width="12" stroke-linecap="butt" stroke-linejoin="round"/>
<polygon points="842.3,2587.2 921.6,2623.3 841.1,2655.7 849.5,2618.5" fill="#ff00ff"/>
<line x1="450.3" y1="2501.7" x2="497" y2="2501.7" stroke="#ff0000" stroke-width="7.5"/>
<polygon points="494,2491.5 515.3,2501.7 494,2512" fill="#ff0000"/>
<line x1="512.4" y1="2529.4" x2="465" y2="2529.4" stroke="#0000ff" stroke-width="7.5"/>
<polygon points="467.8,2519 447.4,2529.4 467.8,2539.6" fill="#0000ff"/>
<line x1="458.1" y1="2630.9" x2="555" y2="2630.9" stroke="#000" stroke-width="11.6"/>
<polygon points="552.1,2616 581.2,2631 552.1,2646" fill="#000"/>
<line x1="1055.1" y1="288.75" x2="1055.1" y2="3102" stroke="#000" stroke-width="3.2" stroke-dasharray="13.5 13.95"/>
<text transform="translate(588.28,100) scale(1,1.02)" font-family="'Liberation Sans', Arial, sans-serif" font-size="96.6" fill="#000">Photon energy (eV)</text>
<text transform="translate(335.6,217.6) scale(1,1.035)" font-family="'Liberation Sans', Arial, sans-serif" font-size="81.5" text-anchor="middle">3.09</text>
<text transform="translate(546.3,217.6) scale(1,1.035)" font-family="'Liberation Sans', Arial, sans-serif" font-size="81.5" text-anchor="middle">2.47</text>
<text transform="translate(757,217.6) scale(1,1.035)" font-family="'Liberation Sans', Arial, sans-serif" font-size="81.5" text-anchor="middle">2.06</text>
<text transform="translate(967.7,217.6) scale(1,1.035)" font-family="'Liberation Sans', Arial, sans-serif" font-size="81.5" text-anchor="middle">1.77</text>
<text transform="translate(1178.4,217.6) scale(1,1.035)" font-family="'Liberation Sans', Arial, sans-serif" font-size="81.5" text-anchor="middle">1.54</text>
<text transform="translate(1389.1,217.6) scale(1,1.035)" font-family="'Liberation Sans', Arial, sans-serif" font-size="81.5" text-anchor="middle">1.37</text>
<text transform="translate(1599.8,217.6) scale(1,1.035)" font-family="'Liberation Sans', Arial, sans-serif" font-size="81.5" text-anchor="middle">1.24</text>
<text transform="translate(335.6,3229.8) scale(1,1.035)" font-family="'Liberation Sans', Arial, sans-serif" font-size="81.5" text-anchor="middle">400</text>
<text transform="translate(546.3,3229.8) scale(1,1.035)" font-family="'Liberation Sans', Arial, sans-serif" font-size="81.5" text-anchor="middle">500</text>
<text transform="translate(757,3229.8) scale(1,1.035)" font-family="'Liberation Sans', Arial, sans-serif" font-size="81.5" text-anchor="middle">600</text>
<text transform="translate(967.7,3229.8) scale(1,1.035)" font-family="'Liberation Sans', Arial, sans-serif" font-size="81.5" text-anchor="middle">700</text>
<text transform="translate(1178.4,3229.8) scale(1,1.035)" font-family="'Liberation Sans', Arial, sans-serif" font-size="81.5" text-anchor="middle">800</text>
<text transform="translate(1389.1,3229.8) scale(1,1.035)" font-family="'Liberation Sans', Arial, sans-serif" font-size="81.5" text-anchor="middle">900</text>
<text transform="translate(1599.8,3229.8) scale(1,1.035)" font-family="'Liberation Sans', Arial, sans-serif" font-size="81.5" text-anchor="middle">1000</text>
<text transform="translate(621.26,3377.1) scale(1,1.03)" font-family="'Liberation Sans', Arial, sans-serif" font-size="99.8" fill="#000">Wavelength (nm)</text>
<text transform="translate(100.5,1101.47) rotate(-90) scale(1,1.06)" font-family="'Liberation Sans', Arial, sans-serif" font-size="96.4" fill="#000">Quantum Yield</text>
<text transform="translate(100.2,1927.67) rotate(-90) scale(1,1.05)" font-family="'Liberation Sans', Arial, sans-serif" font-size="96" fill="#000">PL intensity</text>
<text transform="translate(222,1859.07) rotate(-90)" font-family="'Liberation Sans', Arial, sans-serif" font-size="97.9" fill="#000">(arb. un.)</text>
<text transform="translate(100.2,2877.53) rotate(-90) scale(1,1.05)" font-family="'Liberation Sans', Arial, sans-serif" font-size="95.2" fill="#000">CL intensity</text>
<text transform="translate(222.4,2809.22) rotate(-90)" font-family="'Liberation Sans', Arial, sans-serif" font-size="97" fill="#000">(arb. un.)</text>
<text transform="translate(174.7,469.4) scale(1,1.035)" font-family="'Liberation Sans', Arial, sans-serif" font-size="88">10</text>
<text transform="translate(255,416) scale(1,1.035)" font-family="'Liberation Sans', Arial, sans-serif" font-size="59">-1</text>
<text transform="translate(174.7,645.8) scale(1,1.035)" font-family="'Liberation Sans', Arial, sans-serif" font-size="88">10</text>
<text transform="translate(255,590) scale(1,1.035)" font-family="'Liberation Sans', Arial, sans-serif" font-size="59">-2</text>
<text transform="translate(174.7,839.7) scale(1,1.035)" font-family="'Liberation Sans', Arial, sans-serif" font-size="88">10</text>
<text transform="translate(255,782) scale(1,1.035)" font-family="'Liberation Sans', Arial, sans-serif" font-size="59">-3</text>
<text transform="translate(174.7,1005.5) scale(1,1.035)" font-family="'Liberation Sans', Arial, sans-serif" font-size="88">10</text>
<text transform="translate(255,951.4) scale(1,1.035)" font-family="'Liberation Sans', Arial, sans-serif" font-size="59">-4</text>
<text transform="translate(174.7,1199) scale(1,1.035)" font-family="'Liberation Sans', Arial, sans-serif" font-size="88">10</text>
<text transform="translate(255,1147) scale(1,1.035)" font-family="'Liberation Sans', Arial, sans-serif" font-size="59">-5</text>
<text x="435.12" y="656.1" font-family="'Liberation Sans', Arial, sans-serif" font-size="83.5" fill="#000">(a)</text>
<text x="427.33" y="1406.9" font-family="'Liberation Sans', Arial, sans-serif" font-size="83.3" fill="#000">(b)</text>
<text x="421.5" y="2341.9" font-family="'Liberation Sans', Arial, sans-serif" font-size="83.9" fill="#000">(c)</text>
<text x="506.44" y="883.7" font-family="'Liberation Sans', Arial, sans-serif" font-size="79" fill="#000">e</text>
<rect x="550.8" y="827" width="31.5" height="8.7" fill="#2a2a2a"/>
<text x="584.65" y="883.7" font-family="'Liberation Sans', Arial, sans-serif" font-size="78.8" fill="#000">emission from</text>
<text transform="translate(395.24,973) scale(1,1.03)" font-family="'Liberation Sans', Arial, sans-serif" font-size="79.6">AlGaAs/<tspan font-weight="bold" fill="#ff0000">GaAs</tspan>/AlGaAs</text>
<text transform="translate(701.16,1059.7) scale(1,1.03)" font-family="'Liberation Sans', Arial, sans-serif" font-size="81" fill="#000">QWs</text>
<text x="471.9" y="1639.6" font-family="'Liberation Sans', Arial, sans-serif" font-size="82.6" fill="#000">ħω</text>
<text x="488.57" y="1919" font-family="'Liberation Sans', Arial, sans-serif" font-size="77" fill="#000">λ</text>
<text x="524.99" y="1934.9" font-family="'Liberation Sans', Arial, sans-serif" font-size="38" fill="#000">ex</text>
<text transform="translate(564.79,1919) scale(1,1.06)" font-family="'Liberation Sans', Arial, sans-serif" font-size="76" fill="#000">=650 nm</text>
<text x="466.52" y="2612.6" font-family="'Liberation Serif', 'Times New Roman', serif" font-size="81.5" fill="#333">e</text>
<rect x="500.7" y="2568.9" width="34" height="8.3" fill="#333"/>
<text transform="translate(426.74,2920.5) scale(1,1.07)" font-family="'Liberation Sans', Arial, sans-serif" font-size="78.6" fill="#000">Ua-c=0.5 V</text>
</svg>
</body></html>
